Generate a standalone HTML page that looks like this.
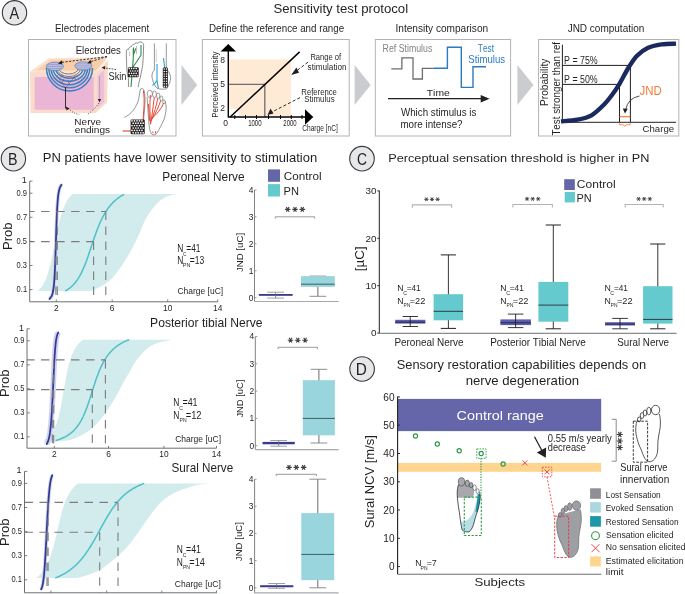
<!DOCTYPE html>
<html><head><meta charset="utf-8"><style>
html,body{margin:0;padding:0;background:#fff;width:685px;height:594px;overflow:hidden}
svg{display:block;will-change:transform}
text{font-family:"Liberation Sans", sans-serif;font-kerning:none}
</style></head><body>
<svg width="685" height="594" viewBox="0 0 685 594">
<rect width="685" height="594" fill="#fff"/>
<circle cx="14.5" cy="12.8" r="12.2" fill="#e6e7e8" stroke="#3a3a3c" stroke-width="1.1"/>
<text x="9.57" y="18.90" font-size="16.6" fill="#231f20" textLength="9.66" lengthAdjust="spacingAndGlyphs" >A</text>
<text x="273.40" y="12.90" font-size="12.9" fill="#231f20" textLength="134.68" lengthAdjust="spacingAndGlyphs" >Sensitivity test protocol</text>
<text x="55.10" y="32.10" font-size="10.2" fill="#231f20" textLength="94.07" lengthAdjust="spacingAndGlyphs" >Electrodes placement</text>
<text x="209.00" y="32.10" font-size="10.2" fill="#231f20" textLength="135.13" lengthAdjust="spacingAndGlyphs" >Define the reference and range</text>
<text x="395.47" y="32.10" font-size="10.2" fill="#231f20" textLength="92.69" lengthAdjust="spacingAndGlyphs" >Intensity comparison</text>
<text x="567.64" y="32.10" font-size="10.2" fill="#231f20" textLength="76.71" lengthAdjust="spacingAndGlyphs" >JND computation</text>
<rect x="28.5" y="39.5" width="147.5" height="96.5" fill="none" stroke="#b1b3b6" stroke-width="1"/>
<rect x="202.4" y="39.5" width="146.8" height="96.5" fill="none" stroke="#b1b3b6" stroke-width="1"/>
<rect x="375.3" y="39.5" width="135.3" height="96.5" fill="none" stroke="#b1b3b6" stroke-width="1"/>
<rect x="538.6" y="39.5" width="140.2" height="96.5" fill="none" stroke="#b1b3b6" stroke-width="1"/>
<polygon points="181.5,65 197.2,85 181.5,105" fill="#cbcccf"/>
<polygon points="354.6,65 370.7,85 354.6,105" fill="#cbcccf"/>
<polygon points="517.4,65 533.5,85 517.4,105" fill="#cbcccf"/>
<polygon points="30,71.7 49,58.3 108.2,57.2 96.3,73" fill="#fbe0cf"/>
<polygon points="37,70 51,60 105,59.5 95,71" fill="#f9cda6"/>
<polygon points="30,71.7 96.3,73 96.3,113 30.5,113" fill="#fbdccb"/>
<rect x="34.6" y="77" width="59.1" height="32.8" fill="#ebb6d6"/>
<polygon points="96.3,73 108.2,60 107,102.6 95.5,113" fill="#f9dacb"/>
<polygon points="97.6,76.3 104.2,69.7 104.2,101.9 97.6,107.8" fill="#edbfd9"/>
<path d="M58.6,68 A10,6 0 0 0 78.6,68" fill="none" stroke="#6d6e71" stroke-width="0.9"/>
<path d="M57.0,68 A11.8,8.6 0 0 0 80.6,68" fill="none" stroke="#6d6e71" stroke-width="0.9"/>
<path d="M55.5,68 A13.8,10.2 0 0 0 83.1,68" fill="none" stroke="#3c7fc4" stroke-width="1.5"/>
<path d="M53.1,68 A16.2,13.3 0 0 0 85.5,68" fill="none" stroke="#3c7fc4" stroke-width="1.5"/>
<path d="M51.0,68 A18.3,16.8 0 0 0 87.6,68" fill="none" stroke="#3c7fc4" stroke-width="1.5"/>
<path d="M48.8,68 A20.5,19.8 0 0 0 89.8,68" fill="none" stroke="#3c7fc4" stroke-width="1.5"/>
<path d="M46.5,68 A23,22.9 0 0 0 92.5,68" fill="none" stroke="#3c7fc4" stroke-width="1.5"/>
<path d="M65.5,88 L62,83 L59,79 L57,75 M62,83 L64,79 M65.5,88 L69,84 L72,80 L75,76 M69,84 L68,80 M60,77 L63,76 M73,78 L76,79" stroke="#58595b" stroke-width="0.5" fill="none"/>
<clipPath id="el0"><ellipse cx="54.9" cy="66.4" rx="8.6" ry="4.2"/></clipPath>
<ellipse cx="54.9" cy="66.4" rx="8.6" ry="4.2" fill="#c4d6ef"/>
<g clip-path="url(#el0)"><line x1="45.9" y1="62.4" x2="63.9" y2="62.4" stroke="#4a83c6" stroke-width="0.55"/><line x1="45.9" y1="63.4" x2="63.9" y2="63.4" stroke="#e79bbd" stroke-width="0.55"/><line x1="45.9" y1="64.4" x2="63.9" y2="64.4" stroke="#4a83c6" stroke-width="0.55"/><line x1="45.9" y1="65.4" x2="63.9" y2="65.4" stroke="#e79bbd" stroke-width="0.55"/><line x1="45.9" y1="66.4" x2="63.9" y2="66.4" stroke="#4a83c6" stroke-width="0.55"/><line x1="45.9" y1="67.4" x2="63.9" y2="67.4" stroke="#e79bbd" stroke-width="0.55"/><line x1="45.9" y1="68.4" x2="63.9" y2="68.4" stroke="#4a83c6" stroke-width="0.55"/><line x1="45.9" y1="69.4" x2="63.9" y2="69.4" stroke="#e79bbd" stroke-width="0.55"/><line x1="45.9" y1="70.4" x2="63.9" y2="70.4" stroke="#4a83c6" stroke-width="0.55"/></g>
<ellipse cx="54.9" cy="66.4" rx="8.6" ry="4.2" fill="none" stroke="#4a83c6" stroke-width="0.6"/>
<clipPath id="el1"><ellipse cx="83.4" cy="65.9" rx="8.6" ry="4.2"/></clipPath>
<ellipse cx="83.4" cy="65.9" rx="8.6" ry="4.2" fill="#c4d6ef"/>
<g clip-path="url(#el1)"><line x1="74.4" y1="61.9" x2="92.4" y2="61.9" stroke="#4a83c6" stroke-width="0.55"/><line x1="74.4" y1="62.9" x2="92.4" y2="62.9" stroke="#e79bbd" stroke-width="0.55"/><line x1="74.4" y1="63.9" x2="92.4" y2="63.9" stroke="#4a83c6" stroke-width="0.55"/><line x1="74.4" y1="64.9" x2="92.4" y2="64.9" stroke="#e79bbd" stroke-width="0.55"/><line x1="74.4" y1="65.9" x2="92.4" y2="65.9" stroke="#4a83c6" stroke-width="0.55"/><line x1="74.4" y1="66.9" x2="92.4" y2="66.9" stroke="#e79bbd" stroke-width="0.55"/><line x1="74.4" y1="67.9" x2="92.4" y2="67.9" stroke="#4a83c6" stroke-width="0.55"/><line x1="74.4" y1="68.9" x2="92.4" y2="68.9" stroke="#e79bbd" stroke-width="0.55"/><line x1="74.4" y1="69.9" x2="92.4" y2="69.9" stroke="#4a83c6" stroke-width="0.55"/></g>
<ellipse cx="83.4" cy="65.9" rx="8.6" ry="4.2" fill="none" stroke="#4a83c6" stroke-width="0.6"/>
<path d="M65.5,87 L65.5,108.5" stroke="#231f20" stroke-width="0.9" fill="none"/>
<polygon points="65.8,106.5 69.5,108.5 66.5,110.5" fill="#231f20"/>
<path d="M99.6,76 L99.6,101" stroke="#9a8aa0" stroke-width="0.6" fill="none"/>
<polygon points="99.6,102.3 97.8,99 101.2,99" fill="#231f20"/>
<path d="M68.7,108.3 Q72,113 79.2,114.6" stroke="#231f20" stroke-width="0.8" fill="none" stroke-dasharray="1,1.4"/>
<path d="M99,103 Q94,110 87.1,114.6" stroke="#231f20" stroke-width="0.8" fill="none" stroke-dasharray="1,1.4"/>
<path d="M107,56.6 L60.5,62.5" stroke="#231f20" stroke-width="0.9" fill="none" stroke-dasharray="2.2,1.4"/>
<polygon points="57.8,63.5 62,60.2 62.3,64.3" fill="#231f20"/>
<path d="M107,56.6 L89.5,62" stroke="#231f20" stroke-width="0.9" fill="none" stroke-dasharray="2.2,1.4"/>
<polygon points="87.3,63.3 90.5,59.7 91.6,63.5" fill="#231f20"/>
<path d="M116,69.5 L104,67.9" stroke="#231f20" stroke-width="0.8" fill="none" stroke-dasharray="1.6,1.2"/>
<polygon points="101.6,67.6 105.3,66 105,69.6" fill="#231f20"/>
<text x="75.72" y="54.00" font-size="10.2" fill="#231f20" textLength="45.13" lengthAdjust="spacingAndGlyphs" >Electrodes</text>
<text x="108.48" y="80.00" font-size="10.2" fill="#231f20" textLength="18.02" lengthAdjust="spacingAndGlyphs" >Skin</text>
<text x="74.38" y="125.40" font-size="9.6" fill="#231f20" textLength="26.66" lengthAdjust="spacingAndGlyphs" >Nerve</text>
<text x="74.77" y="132.80" font-size="9.6" fill="#231f20" textLength="35.39" lengthAdjust="spacingAndGlyphs" >endings</text>
<path d="M128.4,87 C128.6,83 128.4,80 128.4,78.7 C127.4,74 126.6,70 126.7,65.3 C126.5,60 126.2,55 126.3,51 C126.5,49.5 127.5,49 128.5,49.5 M128.5,49.5 C129,47.5 130,46.5 131.2,46.8 C132,44.8 133.2,44 134.4,44.3 C135.2,42.8 136.5,42.6 137.5,43.2 C138.5,41.8 141,41.6 142.3,42.5 C143.6,43.5 143.8,45.5 143.6,47 C143.4,53 143.3,59 142.7,65.3 C141.8,70 141,74 140.2,77.9 C139.3,81 138.5,84 138.1,87.2" fill="none" stroke="#414042" stroke-width="0.6"/>
<path d="M129.5,52 L129.8,56 M132.8,48.5 L132.9,55 M136.5,46 L136.5,54" stroke="#808285" stroke-width="0.5" fill="none"/>
<path d="M131,87 L132.6,67.8 L133.5,54.3 L133.5,47.6 M133.5,54.3 C134.5,52 135.5,50 135.6,48.4 M132.6,67.8 L141,55.2 L141,45" stroke="#2e8b4a" stroke-width="1.1" fill="none"/>
<rect x="127.9" y="67.2" width="10.8" height="10.0" rx="1.2" fill="#231f20"/>
<circle cx="129.3" cy="68.6" r="0.8" fill="#fff"/>
<circle cx="131.6" cy="68.6" r="0.8" fill="#fff"/>
<circle cx="133.9" cy="68.6" r="0.8" fill="#fff"/>
<circle cx="136.2" cy="68.6" r="0.8" fill="#fff"/>
<circle cx="130.5" cy="71.0" r="0.8" fill="#fff"/>
<circle cx="132.8" cy="71.0" r="0.8" fill="#fff"/>
<circle cx="135.1" cy="71.0" r="0.8" fill="#fff"/>
<circle cx="137.4" cy="71.0" r="0.8" fill="#fff"/>
<circle cx="129.3" cy="73.4" r="0.8" fill="#fff"/>
<circle cx="131.6" cy="73.4" r="0.8" fill="#fff"/>
<circle cx="133.9" cy="73.4" r="0.8" fill="#fff"/>
<circle cx="136.2" cy="73.4" r="0.8" fill="#fff"/>
<circle cx="130.5" cy="75.8" r="0.8" fill="#fff"/>
<circle cx="132.8" cy="75.8" r="0.8" fill="#fff"/>
<circle cx="135.1" cy="75.8" r="0.8" fill="#fff"/>
<circle cx="137.4" cy="75.8" r="0.8" fill="#fff"/>
<path d="M154.4,43.4 L154.4,70 C152,72 151.3,76 152.5,79.5 C153.5,83 155,86.5 157,88.2 C160,89.5 164,89.3 166.5,88.8 C168.5,86 170.8,81.5 170.6,77.5 C170.4,74 168.6,71.5 166.3,69 L166.3,43.4" fill="none" stroke="#414042" stroke-width="0.55"/>
<path d="M156.2,49 L156.4,62" stroke="#a7a9ac" stroke-width="0.5" fill="none"/>
<path d="M157,64 L157,80.4 C155.5,83 154,84.5 152.4,85.5 M157,80.4 C157.5,84 158,86 158.3,88.4 M163.4,58.1 C164,62 164.6,65 164.6,67.8 L165.5,88" stroke="#27a3dd" stroke-width="1.1" fill="none"/>
<rect x="162.8" y="67.6" width="5.1" height="20.0" rx="1.2" fill="#231f20"/>
<circle cx="164.2" cy="69.0" r="0.75" fill="#fff"/>
<circle cx="166.5" cy="69.0" r="0.75" fill="#fff"/>
<circle cx="164.2" cy="71.5" r="0.75" fill="#fff"/>
<circle cx="166.5" cy="71.5" r="0.75" fill="#fff"/>
<circle cx="164.2" cy="73.9" r="0.75" fill="#fff"/>
<circle cx="166.5" cy="73.9" r="0.75" fill="#fff"/>
<circle cx="164.2" cy="76.3" r="0.75" fill="#fff"/>
<circle cx="166.5" cy="76.3" r="0.75" fill="#fff"/>
<circle cx="164.2" cy="78.8" r="0.75" fill="#fff"/>
<circle cx="166.5" cy="78.8" r="0.75" fill="#fff"/>
<circle cx="164.2" cy="81.2" r="0.75" fill="#fff"/>
<circle cx="166.5" cy="81.2" r="0.75" fill="#fff"/>
<circle cx="164.2" cy="83.7" r="0.75" fill="#fff"/>
<circle cx="166.5" cy="83.7" r="0.75" fill="#fff"/>
<circle cx="164.2" cy="86.2" r="0.75" fill="#fff"/>
<circle cx="166.5" cy="86.2" r="0.75" fill="#fff"/>
<path d="M124.4,117.4 C131,114.5 136,108 138.5,100 C139.5,95 139.8,91 140.6,89 C141.6,88 143.2,88.5 144,90.3 C145.2,95 145,100 145,102.5 C144.6,110 143.8,116 143.6,120 C143.8,123 144.2,125 144.5,126.2" fill="none" stroke="#414042" stroke-width="0.55"/>
<path d="M143.4,90.5 C144.3,96 144.4,103 143.8,110 C143.2,116 143,120 143.2,124" stroke="#e8412d" stroke-width="1" fill="none"/>
<path d="M147.1,97 C147.5,104 148,111 148.5,118 C149,125 149.5,131 151.5,134 C153.5,135.6 155.8,135 156.8,133.2 C159.5,129 162,124 163.8,120 C165.8,114 166.5,109 166,105 C165.6,102.5 165,101.2 164.5,100.5" fill="none" stroke="#414042" stroke-width="0.55"/>
<ellipse cx="149.8" cy="93.8" rx="2.6" ry="3.6" fill="#fff" stroke="#414042" stroke-width="0.5"/>
<ellipse cx="154.5" cy="94.3" rx="1.9" ry="3.3" fill="#fff" stroke="#414042" stroke-width="0.5"/>
<ellipse cx="158.2" cy="95.9" rx="1.7" ry="2.9" fill="#fff" stroke="#414042" stroke-width="0.5"/>
<ellipse cx="161.4" cy="98.5" rx="1.5" ry="2.4" fill="#fff" stroke="#414042" stroke-width="0.5"/>
<ellipse cx="164" cy="101.8" rx="1.3" ry="1.9" fill="#fff" stroke="#414042" stroke-width="0.5"/>
<path d="M150.6,124.4 C150,115 149.5,105 150.4,95 M150.8,123 C152,114 153.5,106 154.3,97.3 M151.2,121 C154,113 156.5,106 157.7,98.5 M151.6,119.5 C156,113 159,106 160.7,100.5 M152,118 C157,114 161.5,109 163.6,103 M148.4,104 C148.8,110 149.3,116 149.8,121 M152.5,131.5 L153.3,133.3 M155.7,131.2 L155.4,133.5" stroke="#e8412d" stroke-width="0.95" fill="none"/>
<path d="M122.6,131 L131.4,131" stroke="#e8412d" stroke-width="1.1"/>
<rect x="130.6" y="119.4" width="14.1" height="14.8" rx="1.2" fill="#231f20"/>
<circle cx="132.0" cy="120.8" r="0.85" fill="#fff"/>
<circle cx="134.5" cy="120.8" r="0.85" fill="#fff"/>
<circle cx="137.0" cy="120.8" r="0.85" fill="#fff"/>
<circle cx="139.5" cy="120.8" r="0.85" fill="#fff"/>
<circle cx="142.0" cy="120.8" r="0.85" fill="#fff"/>
<circle cx="133.2" cy="123.2" r="0.85" fill="#fff"/>
<circle cx="135.8" cy="123.2" r="0.85" fill="#fff"/>
<circle cx="138.2" cy="123.2" r="0.85" fill="#fff"/>
<circle cx="140.8" cy="123.2" r="0.85" fill="#fff"/>
<circle cx="143.2" cy="123.2" r="0.85" fill="#fff"/>
<circle cx="132.0" cy="125.6" r="0.85" fill="#fff"/>
<circle cx="134.5" cy="125.6" r="0.85" fill="#fff"/>
<circle cx="137.0" cy="125.6" r="0.85" fill="#fff"/>
<circle cx="139.5" cy="125.6" r="0.85" fill="#fff"/>
<circle cx="142.0" cy="125.6" r="0.85" fill="#fff"/>
<circle cx="133.2" cy="128.0" r="0.85" fill="#fff"/>
<circle cx="135.8" cy="128.0" r="0.85" fill="#fff"/>
<circle cx="138.2" cy="128.0" r="0.85" fill="#fff"/>
<circle cx="140.8" cy="128.0" r="0.85" fill="#fff"/>
<circle cx="143.2" cy="128.0" r="0.85" fill="#fff"/>
<circle cx="132.0" cy="130.4" r="0.85" fill="#fff"/>
<circle cx="134.5" cy="130.4" r="0.85" fill="#fff"/>
<circle cx="137.0" cy="130.4" r="0.85" fill="#fff"/>
<circle cx="139.5" cy="130.4" r="0.85" fill="#fff"/>
<circle cx="142.0" cy="130.4" r="0.85" fill="#fff"/>
<circle cx="133.2" cy="132.8" r="0.85" fill="#fff"/>
<circle cx="135.8" cy="132.8" r="0.85" fill="#fff"/>
<circle cx="138.2" cy="132.8" r="0.85" fill="#fff"/>
<circle cx="140.8" cy="132.8" r="0.85" fill="#fff"/>
<circle cx="143.2" cy="132.8" r="0.85" fill="#fff"/>
<path d="M229,59.6 L291,59.6 L291,116 L238.5,116 L238.5,108.7 L229,108.7 Z" fill="#feead5"/>
<path d="M229,84.3 L264.8,84.3 L264.8,117" fill="none" stroke="#6d6e71" stroke-width="1.3"/>
<line x1="230.2" y1="117" x2="299.6" y2="51.9" stroke="#000" stroke-width="1.5"/>
<line x1="228.3" y1="117.5" x2="228.3" y2="50" stroke="#000" stroke-width="1.4"/>
<polygon points="228.3,43.9 236,51.4 220.6,51.4" fill="#000"/>
<line x1="228.3" y1="117" x2="306" y2="117" stroke="#000" stroke-width="1.4"/>
<polygon points="313.3,117 305,109.3 305,124.7" fill="#000"/>
<line x1="234.8" y1="115" x2="234.8" y2="119" stroke="#000" stroke-width="1"/>
<line x1="245.5" y1="115" x2="245.5" y2="119" stroke="#000" stroke-width="1"/>
<line x1="256.5" y1="115" x2="256.5" y2="119" stroke="#000" stroke-width="1"/>
<line x1="268.5" y1="115" x2="268.5" y2="119" stroke="#000" stroke-width="1"/>
<line x1="280.5" y1="115" x2="280.5" y2="119" stroke="#000" stroke-width="1"/>
<line x1="291.3" y1="115" x2="291.3" y2="119" stroke="#000" stroke-width="1"/>
<line x1="302" y1="115" x2="302" y2="119" stroke="#000" stroke-width="1"/>
<text x="225.00" y="63.30" font-size="8.5" fill="#231f20" text-anchor="end" >8</text>
<text x="225.00" y="87.00" font-size="8.5" fill="#231f20" text-anchor="end" >5</text>
<text x="225.00" y="110.50" font-size="8.5" fill="#231f20" text-anchor="end" >2</text>
<text x="225.50" y="125.60" font-size="8.5" fill="#231f20" text-anchor="middle" >0</text>
<text x="248.14" y="125.60" font-size="8.5" fill="#231f20" textLength="13.50" lengthAdjust="spacingAndGlyphs" >1000</text>
<text x="283.30" y="125.60" font-size="8.5" fill="#231f20" textLength="13.34" lengthAdjust="spacingAndGlyphs" >2000</text>
<text x="217.60" y="117.64" font-size="9.9" fill="#231f20" textLength="65.96" lengthAdjust="spacingAndGlyphs" transform="rotate(-90 217.60 117.64)" >Perceived intensity</text>
<text x="310.38" y="59.60" font-size="9.2" fill="#231f20" textLength="30.61" lengthAdjust="spacingAndGlyphs" >Range of</text>
<text x="307.57" y="70.40" font-size="9.2" fill="#231f20" textLength="38.96" lengthAdjust="spacingAndGlyphs" >stimulation</text>
<text x="301.37" y="94.80" font-size="8.8" fill="#231f20" textLength="35.47" lengthAdjust="spacingAndGlyphs" >Reference</text>
<text x="304.24" y="101.80" font-size="8.8" fill="#231f20" textLength="30.35" lengthAdjust="spacingAndGlyphs" >Stimulus</text>
<text x="302.26" y="131.00" font-size="8.2" fill="#231f20" textLength="35.61" lengthAdjust="spacingAndGlyphs" >Charge [nC]</text>
<line x1="308" y1="62.2" x2="295.5" y2="71.6" stroke="#231f20" stroke-width="0.95" stroke-dasharray="3,2.2"/>
<polygon points="291.2,75 296.4,67.6 299,72.8" fill="#231f20"/>
<line x1="300" y1="97.6" x2="271" y2="112.5" stroke="#231f20" stroke-width="0.95" stroke-dasharray="3,2.2"/>
<polygon points="267.5,115 270.5,108.6 273.5,113.6" fill="#231f20"/>
<text x="382.58" y="51.90" font-size="10.2" fill="#808285" textLength="49.74" lengthAdjust="spacingAndGlyphs" >Ref Stimulus</text>
<polyline points="391.3,68.9 401.9,68.9 401.9,57.8 413,57.8 413,79 422.4,79 422.4,68.3 434,68.3" fill="none" stroke="#6d6e71" stroke-width="1.3"/>
<polyline points="434,68.3 447.4,68.3 447.4,47.2 461.3,47.2 461.3,87.4 473,87.4 473,66.7 486,66.7" fill="none" stroke="#2b7bc0" stroke-width="1.4"/>
<text x="477.81" y="51.90" font-size="10.2" fill="#2b7bc0" textLength="16.25" lengthAdjust="spacingAndGlyphs" >Test</text>
<text x="468.26" y="63.00" font-size="10.2" fill="#2b7bc0" textLength="36.88" lengthAdjust="spacingAndGlyphs" >Stimulus</text>
<text x="426.77" y="95.70" font-size="9.9" fill="#231f20" textLength="22.99" lengthAdjust="spacingAndGlyphs" >Time</text>
<line x1="388" y1="98.7" x2="482" y2="98.7" stroke="#231f20" stroke-width="1.2"/>
<polygon points="489.6,98.7 480.7,95 480.7,102.4" fill="#231f20"/>
<text x="400.96" y="115.50" font-size="11.3" fill="#231f20" textLength="75.40" lengthAdjust="spacingAndGlyphs" >Which stimulus is</text>
<text x="400.45" y="127.60" font-size="11.3" fill="#231f20" textLength="62.11" lengthAdjust="spacingAndGlyphs" >more intense?</text>
<line x1="562.4" y1="44.7" x2="562.4" y2="122.3" stroke="#231f20" stroke-width="1"/>
<line x1="562.4" y1="122.3" x2="676" y2="122.3" stroke="#231f20" stroke-width="1"/>
<path d="M562.5,65.4 L630.4,65.4 L630.4,122.3 M562.5,84.4 L619.5,84.4 L619.5,122.3" fill="none" stroke="#231f20" stroke-width="1"/>
<path d="M561.00,121.40 C563.75,121.12 572.42,120.72 577.50,119.70 C582.58,118.68 587.12,117.78 591.50,115.30 C595.88,112.82 600.30,108.30 603.80,104.80 C607.30,101.30 609.88,97.80 612.50,94.30 C615.12,90.80 616.87,88.18 619.50,83.80 C622.13,79.42 625.38,72.67 628.30,68.00 C631.22,63.33 633.78,59.15 637.00,55.80 C640.22,52.45 643.50,49.80 647.60,47.90 C651.70,46.00 656.87,45.12 661.60,44.40 C666.33,43.68 673.60,43.73 676.00,43.60" fill="none" stroke="#1b2a5e" stroke-width="4.4"/>
<text x="564.08" y="63.50" font-size="11.6" fill="#231f20" textLength="33.64" lengthAdjust="spacingAndGlyphs" >P = 75%</text>
<text x="564.08" y="83.30" font-size="11.6" fill="#231f20" textLength="33.64" lengthAdjust="spacingAndGlyphs" >P = 50%</text>
<text x="639.52" y="94.50" font-size="13" fill="#f47b3b" textLength="22.23" lengthAdjust="spacingAndGlyphs" >JND</text>
<path d="M639.5,96 Q628,98 625.5,110" fill="none" stroke="#231f20" stroke-width="0.8"/>
<polygon points="625,113.5 622.8,108.5 627.8,108.8" fill="#231f20"/>
<line x1="619.4" y1="116.7" x2="630.2" y2="116.7" stroke="#f47b3b" stroke-width="1.2"/>
<path d="M619.4,122.5 L619.4,124.8 L623.5,124.8 L624.8,126.5 L626.1,124.8 L630.2,124.8 L630.2,122.5" fill="none" stroke="#f47b3b" stroke-width="0.8"/>
<text x="642.51" y="131.80" font-size="9.9" fill="#231f20" textLength="31.62" lengthAdjust="spacingAndGlyphs" >Charge</text>
<text x="548.20" y="105.93" font-size="10.6" fill="#231f20" textLength="47.35" lengthAdjust="spacingAndGlyphs" transform="rotate(-90 548.20 105.93)" >Probability</text>
<text x="559.80" y="135.62" font-size="11" fill="#231f20" textLength="93.71" lengthAdjust="spacingAndGlyphs" transform="rotate(-90 559.80 135.62)" >Test stronger than ref</text>
<circle cx="13.4" cy="158.8" r="12.2" fill="#e6e7e8" stroke="#3a3a3c" stroke-width="1.1"/>
<text x="7.93" y="164.70" font-size="16.6" fill="#231f20" textLength="9.52" lengthAdjust="spacingAndGlyphs" >B</text>
<text x="42.83" y="161.80" font-size="13.1" fill="#231f20" textLength="274.31" lengthAdjust="spacingAndGlyphs" >PN patients have lower sensitivity to stimulation</text>
<text x="162.23" y="180.70" font-size="12.6" fill="#231f20" textLength="82.40" lengthAdjust="spacingAndGlyphs" >Peroneal Nerve</text>
<rect x="268" y="169.4" width="12" height="12.4" fill="#6565a9"/>
<rect x="268" y="184.1" width="12" height="12.4" fill="#65cace"/>
<text x="283.80" y="180.00" font-size="11.2" fill="#231f20" textLength="37.78" lengthAdjust="spacingAndGlyphs" >Control</text>
<text x="283.49" y="194.60" font-size="11.2" fill="#231f20" textLength="15.42" lengthAdjust="spacingAndGlyphs" >PN</text>
<path d="M37.63,291.10 L39.68,289.12 L41.33,287.14 L42.70,285.16 L43.86,283.18 L44.87,281.20 L45.76,279.22 L46.55,277.24 L47.28,275.26 L47.94,273.28 L48.55,271.30 L49.11,269.32 L49.65,267.34 L50.15,265.37 L50.63,263.39 L51.09,261.41 L51.53,259.43 L51.96,257.45 L52.37,255.47 L52.77,253.49 L53.17,251.51 L53.56,249.53 L53.95,247.55 L54.33,245.57 L54.71,243.59 L55.10,241.61 L55.48,239.63 L55.87,237.65 L56.26,235.67 L56.66,233.69 L57.07,231.71 L57.49,229.73 L57.92,227.75 L58.36,225.77 L58.83,223.79 L59.31,221.81 L59.81,219.83 L60.34,217.86 L60.91,215.88 L61.51,213.90 L62.15,211.92 L62.85,209.94 L63.60,207.96 L64.43,205.98 L65.35,204.00 L66.38,202.02 L67.54,200.04 L68.88,198.06 L70.46,196.08 L72.35,194.10 L177.80,194.10 L176.81,194.15 L175.83,194.25 L174.84,194.40 L173.85,194.58 L172.87,194.80 L171.88,195.05 L170.89,195.32 L169.91,195.61 L168.92,195.91 L167.93,196.22 L166.95,196.57 L165.96,197.00 L164.98,197.49 L163.99,198.04 L163.00,198.64 L162.02,199.28 L161.03,199.97 L160.04,200.69 L159.06,201.51 L158.07,202.42 L157.08,203.40 L156.10,204.46 L155.11,205.58 L154.12,206.76 L153.14,207.98 L152.15,209.25 L151.16,210.55 L150.18,211.88 L149.19,213.30 L148.20,214.83 L147.22,216.45 L146.23,218.17 L145.24,219.98 L144.26,221.88 L143.27,224.01 L142.29,226.34 L141.30,228.78 L140.31,231.24 L139.33,233.63 L138.34,235.85 L137.35,237.97 L136.37,240.05 L135.38,242.10 L134.39,244.11 L133.41,246.07 L132.42,247.97 L131.43,249.82 L130.45,251.62 L129.46,253.36 L128.47,255.07 L127.49,256.75 L126.50,258.39 L125.51,260.00 L124.53,261.57 L123.54,263.09 L122.56,264.58 L121.57,266.02 L120.58,267.41 L119.60,268.77 L118.61,270.11 L117.62,271.45 L116.64,272.75 L115.65,274.02 L114.66,275.25 L113.68,276.42 L112.69,277.53 L111.70,278.57 L110.72,279.53 L109.73,280.41 L108.74,281.24 L107.76,282.04 L106.77,282.80 L105.78,283.52 L104.80,284.21 L103.81,284.86 L102.82,285.48 L101.84,286.06 L100.85,286.61 L99.87,287.12 L98.88,287.61 L97.89,288.09 L96.91,288.55 L95.92,289.00 L94.93,289.41 L93.95,289.81 L92.96,290.18 L91.97,290.52 L90.99,290.82 L90.00,291.10 Z" fill="#d2ebec"/>
<path d="M65.11,291.10 L67.80,289.46 L70.02,287.82 L71.92,286.18 L73.56,284.54 L75.01,282.90 L76.30,281.26 L77.47,279.62 L78.53,277.97 L79.51,276.33 L80.43,274.69 L81.28,273.05 L82.08,271.41 L82.84,269.77 L83.56,268.13 L84.25,266.49 L84.91,264.85 L85.55,263.21 L86.17,261.57 L86.78,259.93 L87.36,258.29 L87.94,256.65 L88.51,255.01 L89.06,253.36 L89.62,251.72 L90.16,250.08 L90.71,248.44 L91.25,246.80 L91.79,245.16 L92.34,243.52 L92.89,241.88 L93.44,240.24 L94.00,238.60 L94.56,236.96 L95.14,235.32 L95.72,233.68 L96.32,232.04 L96.93,230.39 L97.56,228.75 L98.21,227.11 L98.87,225.47 L99.57,223.83 L100.28,222.19 L101.03,220.55 L101.82,218.91 L102.64,217.27 L103.50,215.63 L104.42,213.99 L105.39,212.35 L106.42,210.71 L107.53,209.07 L108.72,207.43 L110.02,205.78 L111.43,204.14 L112.98,202.50 L114.70,200.86 L116.62,199.22 L118.80,197.58 L121.30,195.94 L124.20,194.30" fill="none" stroke="#4cc1c7" stroke-width="1.5"/>
<path d="M49.52,299.10 L51.67,296.16 L52.64,293.23 L53.23,290.29 L53.65,287.36 L53.97,284.42 L54.22,281.48 L54.43,278.55 L54.62,275.61 L54.78,272.68 L54.92,269.74 L55.05,266.81 L55.17,263.87 L55.28,260.93 L55.39,258.00 L55.49,255.06 L55.59,252.13 L55.68,249.19 L55.78,246.25 L55.87,243.32 L55.96,240.38 L56.05,237.45 L56.14,234.51 L56.24,231.57 L56.33,228.64 L56.43,225.70 L56.54,222.77 L56.65,219.83 L56.77,216.89 L56.90,213.96 L57.04,211.02 L57.19,208.09 L57.37,205.15 L57.58,202.22 L57.82,199.28 L58.12,196.34 L58.51,193.41 L59.04,190.47 L59.87,187.54 L61.49,184.60" fill="none" stroke="#d3d2ee" stroke-width="3.6" stroke-linecap="butt"/>
<path d="M49.52,299.10 L51.67,296.16 L52.64,293.23 L53.23,290.29 L53.65,287.36 L53.97,284.42 L54.22,281.48 L54.43,278.55 L54.62,275.61 L54.78,272.68 L54.92,269.74 L55.05,266.81 L55.17,263.87 L55.28,260.93 L55.39,258.00 L55.49,255.06 L55.59,252.13 L55.68,249.19 L55.78,246.25 L55.87,243.32 L55.96,240.38 L56.05,237.45 L56.14,234.51 L56.24,231.57 L56.33,228.64 L56.43,225.70 L56.54,222.77 L56.65,219.83 L56.77,216.89 L56.90,213.96 L57.04,211.02 L57.19,208.09 L57.37,205.15 L57.58,202.22 L57.82,199.28 L58.12,196.34 L58.51,193.41 L59.04,190.47 L59.87,187.54 L61.49,184.60" fill="none" stroke="#2f3b93" stroke-width="1.75" stroke-linecap="round"/>
<line x1="29.7" y1="211.5" x2="105.8" y2="211.5" stroke="#7b7c7f" stroke-width="1.1" stroke-dasharray="8.5,6.5" stroke-dashoffset="3.6"/>
<line x1="29.7" y1="241.6" x2="93.6" y2="241.6" stroke="#7b7c7f" stroke-width="1.1" stroke-dasharray="8.5,6.5" stroke-dashoffset="3.6"/>
<line x1="55.9" y1="241.6" x2="55.9" y2="301.8" stroke="#7b7c7f" stroke-width="1.1" stroke-dasharray="8.5,6.5"/>
<line x1="57.3" y1="211.5" x2="57.3" y2="301.8" stroke="#7b7c7f" stroke-width="1.1" stroke-dasharray="8.5,6.5"/>
<line x1="93.6" y1="241.6" x2="93.6" y2="301.8" stroke="#7b7c7f" stroke-width="1.1" stroke-dasharray="8.5,6.5"/>
<line x1="105.8" y1="211.5" x2="105.8" y2="301.8" stroke="#7b7c7f" stroke-width="1.1" stroke-dasharray="8.5,6.5"/>
<line x1="29.7" y1="181.1" x2="29.7" y2="301.8" stroke="#6d6e71" stroke-width="1"/>
<line x1="29.7" y1="301.8" x2="217.7" y2="301.8" stroke="#6d6e71" stroke-width="1"/>
<line x1="29.7" y1="181.1" x2="32.5" y2="181.1" stroke="#6d6e71" stroke-width="0.9"/>
<text x="26.70" y="183.10" font-size="9.0" fill="#231f20" text-anchor="end" >1</text>
<line x1="29.7" y1="193.2" x2="32.5" y2="193.2" stroke="#6d6e71" stroke-width="0.9"/>
<text x="16.61" y="195.76" font-size="9.3" fill="#231f20" textLength="10.45" lengthAdjust="spacingAndGlyphs" >0.9</text>
<line x1="29.7" y1="217.3" x2="32.5" y2="217.3" stroke="#6d6e71" stroke-width="0.9"/>
<text x="16.61" y="219.88" font-size="9.3" fill="#231f20" textLength="10.47" lengthAdjust="spacingAndGlyphs" >0.7</text>
<line x1="29.7" y1="241.4" x2="32.5" y2="241.4" stroke="#6d6e71" stroke-width="0.9"/>
<text x="16.61" y="244.00" font-size="9.3" fill="#231f20" textLength="10.41" lengthAdjust="spacingAndGlyphs" >0.5</text>
<line x1="29.7" y1="265.5" x2="32.5" y2="265.5" stroke="#6d6e71" stroke-width="0.9"/>
<text x="16.61" y="268.12" font-size="9.3" fill="#231f20" textLength="10.42" lengthAdjust="spacingAndGlyphs" >0.3</text>
<line x1="29.7" y1="289.6" x2="32.5" y2="289.6" stroke="#6d6e71" stroke-width="0.9"/>
<text x="16.61" y="292.24" font-size="9.3" fill="#231f20" textLength="10.46" lengthAdjust="spacingAndGlyphs" >0.1</text>
<line x1="56.3" y1="301.8" x2="56.3" y2="299.5" stroke="#6d6e71" stroke-width="0.9"/>
<text x="56.30" y="310.60" font-size="8.4" fill="#231f20" text-anchor="middle" >2</text>
<line x1="112.2" y1="301.8" x2="112.2" y2="299.5" stroke="#6d6e71" stroke-width="0.9"/>
<text x="112.20" y="310.60" font-size="8.4" fill="#231f20" text-anchor="middle" >6</text>
<line x1="167.7" y1="301.8" x2="167.7" y2="299.5" stroke="#6d6e71" stroke-width="0.9"/>
<text x="167.70" y="310.60" font-size="8.4" fill="#231f20" text-anchor="middle" >10</text>
<line x1="217.7" y1="301.8" x2="217.7" y2="299.5" stroke="#6d6e71" stroke-width="0.9"/>
<text x="217.70" y="310.60" font-size="8.4" fill="#231f20" text-anchor="middle" >14</text>
<text x="177.21" y="252.30" font-size="10.0" fill="#231f20" textLength="6.08" lengthAdjust="spacingAndGlyphs" >N</text>
<text x="182.97" y="255.90" font-size="6.2" fill="#231f20" textLength="3.31" lengthAdjust="spacingAndGlyphs" >C</text>
<text x="186.29" y="252.30" font-size="10.0" fill="#231f20" textLength="14.22" lengthAdjust="spacingAndGlyphs" >=41</text>
<text x="177.21" y="264.00" font-size="10.0" fill="#231f20" textLength="6.08" lengthAdjust="spacingAndGlyphs" >N</text>
<text x="182.75" y="267.40" font-size="5.4" fill="#231f20" textLength="7.59" lengthAdjust="spacingAndGlyphs" >PN</text>
<text x="189.78" y="264.00" font-size="10.0" fill="#231f20" textLength="14.49" lengthAdjust="spacingAndGlyphs" >=13</text>
<text x="177.47" y="293.50" font-size="9.4" fill="#231f20" textLength="45.63" lengthAdjust="spacingAndGlyphs" >Charge [uC]</text>
<text x="11.70" y="250.07" font-size="12.8" fill="#231f20" textLength="27.62" lengthAdjust="spacingAndGlyphs" transform="rotate(-90 11.70 250.07)" >Prob</text>
<text x="150.11" y="326.90" font-size="12.6" fill="#231f20" textLength="112.43" lengthAdjust="spacingAndGlyphs" >Posterior tibial Nerve</text>
<path d="M43.21,440.70 L46.44,438.64 L48.83,436.58 L50.69,434.52 L52.19,432.46 L53.44,430.39 L54.50,428.33 L55.42,426.27 L56.23,424.21 L56.95,422.15 L57.60,420.09 L58.19,418.03 L58.74,415.97 L59.25,413.90 L59.72,411.84 L60.17,409.78 L60.60,407.72 L61.01,405.66 L61.40,403.60 L61.78,401.54 L62.15,399.48 L62.51,397.41 L62.87,395.35 L63.22,393.29 L63.57,391.23 L63.92,389.17 L64.27,387.11 L64.63,385.05 L64.99,382.99 L65.36,380.92 L65.74,378.86 L66.13,376.80 L66.54,374.74 L66.96,372.68 L67.40,370.62 L67.87,368.56 L68.37,366.50 L68.89,364.43 L69.46,362.37 L70.07,360.31 L70.74,358.25 L71.48,356.19 L72.29,354.13 L73.20,352.07 L74.24,350.01 L75.43,347.94 L76.83,345.88 L78.50,343.82 L80.54,341.76 L83.13,339.70 L173.00,339.70 L171.79,339.84 L170.58,340.01 L169.37,340.20 L168.16,340.42 L166.96,340.66 L165.75,340.91 L164.54,341.19 L163.33,341.47 L162.12,341.77 L160.91,342.08 L159.70,342.42 L158.49,342.79 L157.28,343.19 L156.07,343.62 L154.87,344.09 L153.66,344.61 L152.45,345.18 L151.24,345.81 L150.03,346.54 L148.82,347.38 L147.61,348.32 L146.40,349.34 L145.19,350.44 L143.98,351.61 L142.78,352.84 L141.57,354.13 L140.36,355.46 L139.15,356.83 L137.94,358.29 L136.73,359.92 L135.52,361.69 L134.31,363.58 L133.10,365.57 L131.89,367.64 L130.69,369.75 L129.48,371.90 L128.27,374.04 L127.06,376.17 L125.85,378.26 L124.64,380.37 L123.43,382.56 L122.22,384.80 L121.01,387.08 L119.80,389.36 L118.60,391.64 L117.39,393.89 L116.18,396.09 L114.97,398.22 L113.76,400.27 L112.55,402.22 L111.34,404.13 L110.13,406.03 L108.92,407.90 L107.71,409.74 L106.51,411.53 L105.30,413.26 L104.09,414.94 L102.88,416.54 L101.67,418.05 L100.46,419.48 L99.25,420.83 L98.04,422.15 L96.83,423.45 L95.62,424.71 L94.42,425.94 L93.21,427.12 L92.00,428.25 L90.79,429.31 L89.58,430.31 L88.37,431.23 L87.16,432.06 L85.95,432.80 L84.74,433.47 L83.53,434.12 L82.33,434.77 L81.12,435.40 L79.91,436.01 L78.70,436.60 L77.49,437.17 L76.28,437.71 L75.07,438.22 L73.86,438.69 L72.65,439.12 L71.44,439.51 L70.24,439.86 L69.03,440.15 L67.82,440.39 L66.61,440.58 L65.40,440.70 Z" fill="#d2ebec"/>
<path d="M55.51,440.70 L60.46,438.99 L64.27,437.28 L67.33,435.56 L69.85,433.85 L71.99,432.14 L73.83,430.43 L75.43,428.72 L76.85,427.01 L78.13,425.29 L79.28,423.58 L80.34,421.87 L81.31,420.16 L82.21,418.45 L83.05,416.73 L83.83,415.02 L84.58,413.31 L85.29,411.60 L85.96,409.89 L86.61,408.17 L87.24,406.46 L87.84,404.75 L88.43,403.04 L89.00,401.33 L89.57,399.62 L90.12,397.90 L90.67,396.19 L91.21,394.48 L91.75,392.77 L92.29,391.06 L92.83,389.34 L93.37,387.63 L93.92,385.92 L94.48,384.21 L95.04,382.50 L95.62,380.78 L96.21,379.07 L96.81,377.36 L97.43,375.65 L98.08,373.94 L98.75,372.23 L99.44,370.51 L100.17,368.80 L100.94,367.09 L101.74,365.38 L102.60,363.67 L103.51,361.95 L104.48,360.24 L105.53,358.53 L106.66,356.82 L107.88,355.11 L109.23,353.39 L110.72,351.68 L112.37,349.97 L114.23,348.26 L116.34,346.55 L118.77,344.84 L121.62,343.12 L125.02,341.41 L129.17,339.70" fill="none" stroke="#4cc1c7" stroke-width="1.5"/>
<path d="M46.73,444.10 L48.08,441.24 L48.91,438.37 L49.51,435.51 L49.97,432.64 L50.35,429.78 L50.67,426.92 L50.94,424.05 L51.19,421.19 L51.41,418.32 L51.61,415.46 L51.79,412.59 L51.97,409.73 L52.13,406.87 L52.29,404.00 L52.43,401.14 L52.58,398.27 L52.72,395.41 L52.85,392.55 L52.98,389.68 L53.11,386.82 L53.24,383.95 L53.37,381.09 L53.50,378.23 L53.64,375.36 L53.77,372.50 L53.91,369.63 L54.05,366.77 L54.20,363.91 L54.35,361.04 L54.52,358.18 L54.69,355.31 L54.89,352.45 L55.10,349.58 L55.35,346.72 L55.63,343.86 L55.98,340.99 L56.44,338.13 L57.09,335.26 L58.24,332.40" fill="none" stroke="#d3d2ee" stroke-width="5.6" stroke-linecap="butt"/>
<path d="M46.73,444.10 L48.08,441.24 L48.91,438.37 L49.51,435.51 L49.97,432.64 L50.35,429.78 L50.67,426.92 L50.94,424.05 L51.19,421.19 L51.41,418.32 L51.61,415.46 L51.79,412.59 L51.97,409.73 L52.13,406.87 L52.29,404.00 L52.43,401.14 L52.58,398.27 L52.72,395.41 L52.85,392.55 L52.98,389.68 L53.11,386.82 L53.24,383.95 L53.37,381.09 L53.50,378.23 L53.64,375.36 L53.77,372.50 L53.91,369.63 L54.05,366.77 L54.20,363.91 L54.35,361.04 L54.52,358.18 L54.69,355.31 L54.89,352.45 L55.10,349.58 L55.35,346.72 L55.63,343.86 L55.98,340.99 L56.44,338.13 L57.09,335.26 L58.24,332.40" fill="none" stroke="#2f3b93" stroke-width="1.75" stroke-linecap="round"/>
<line x1="27" y1="359.9" x2="105.4" y2="359.9" stroke="#7b7c7f" stroke-width="1.1" stroke-dasharray="8.5,6.5" stroke-dashoffset="1.0"/>
<line x1="27" y1="389.6" x2="92.3" y2="389.6" stroke="#7b7c7f" stroke-width="1.1" stroke-dasharray="8.5,6.5" stroke-dashoffset="1.0"/>
<line x1="52.3" y1="389.6" x2="52.3" y2="448.2" stroke="#7b7c7f" stroke-width="1.1" stroke-dasharray="8.5,6.5"/>
<line x1="53.7" y1="359.9" x2="53.7" y2="448.2" stroke="#7b7c7f" stroke-width="1.1" stroke-dasharray="8.5,6.5"/>
<line x1="92.3" y1="389.6" x2="92.3" y2="448.2" stroke="#7b7c7f" stroke-width="1.1" stroke-dasharray="8.5,6.5"/>
<line x1="105.4" y1="359.9" x2="105.4" y2="448.2" stroke="#7b7c7f" stroke-width="1.1" stroke-dasharray="8.5,6.5"/>
<line x1="27" y1="328.8" x2="27" y2="448.2" stroke="#6d6e71" stroke-width="1"/>
<line x1="27" y1="448.2" x2="216.5" y2="448.2" stroke="#6d6e71" stroke-width="1"/>
<line x1="27" y1="328.8" x2="29.8" y2="328.8" stroke="#6d6e71" stroke-width="0.9"/>
<text x="24.00" y="330.80" font-size="9.0" fill="#231f20" text-anchor="end" >1</text>
<line x1="27" y1="340.8" x2="29.8" y2="340.8" stroke="#6d6e71" stroke-width="0.9"/>
<text x="13.91" y="343.41" font-size="9.3" fill="#231f20" textLength="10.45" lengthAdjust="spacingAndGlyphs" >0.9</text>
<line x1="27" y1="364.8" x2="29.8" y2="364.8" stroke="#6d6e71" stroke-width="0.9"/>
<text x="13.91" y="367.43" font-size="9.3" fill="#231f20" textLength="10.47" lengthAdjust="spacingAndGlyphs" >0.7</text>
<line x1="27" y1="388.8" x2="29.8" y2="388.8" stroke="#6d6e71" stroke-width="0.9"/>
<text x="13.91" y="391.45" font-size="9.3" fill="#231f20" textLength="10.41" lengthAdjust="spacingAndGlyphs" >0.5</text>
<line x1="27" y1="412.9" x2="29.8" y2="412.9" stroke="#6d6e71" stroke-width="0.9"/>
<text x="13.91" y="415.47" font-size="9.3" fill="#231f20" textLength="10.42" lengthAdjust="spacingAndGlyphs" >0.3</text>
<line x1="27" y1="436.9" x2="29.8" y2="436.9" stroke="#6d6e71" stroke-width="0.9"/>
<text x="13.91" y="439.49" font-size="9.3" fill="#231f20" textLength="10.46" lengthAdjust="spacingAndGlyphs" >0.1</text>
<line x1="54.3" y1="448.2" x2="54.3" y2="445.9" stroke="#6d6e71" stroke-width="0.9"/>
<text x="54.30" y="457.00" font-size="8.4" fill="#231f20" text-anchor="middle" >2</text>
<line x1="108.6" y1="448.2" x2="108.6" y2="445.9" stroke="#6d6e71" stroke-width="0.9"/>
<text x="108.60" y="457.00" font-size="8.4" fill="#231f20" text-anchor="middle" >6</text>
<line x1="163.9" y1="448.2" x2="163.9" y2="445.9" stroke="#6d6e71" stroke-width="0.9"/>
<text x="163.90" y="457.00" font-size="8.4" fill="#231f20" text-anchor="middle" >10</text>
<line x1="216.5" y1="448.2" x2="216.5" y2="445.9" stroke="#6d6e71" stroke-width="0.9"/>
<text x="216.50" y="457.00" font-size="8.4" fill="#231f20" text-anchor="middle" >14</text>
<text x="173.21" y="406.30" font-size="10.0" fill="#231f20" textLength="6.08" lengthAdjust="spacingAndGlyphs" >N</text>
<text x="179.34" y="409.90" font-size="6.2" fill="#231f20" textLength="3.76" lengthAdjust="spacingAndGlyphs" >C</text>
<text x="182.47" y="406.30" font-size="10.0" fill="#231f20" textLength="15.07" lengthAdjust="spacingAndGlyphs" >=41</text>
<text x="173.21" y="418.70" font-size="10.0" fill="#231f20" textLength="6.08" lengthAdjust="spacingAndGlyphs" >N</text>
<text x="179.59" y="422.10" font-size="5.4" fill="#231f20" textLength="7.03" lengthAdjust="spacingAndGlyphs" >PN</text>
<text x="185.74" y="418.70" font-size="10.0" fill="#231f20" textLength="15.82" lengthAdjust="spacingAndGlyphs" >=12</text>
<text x="175.17" y="441.90" font-size="9.4" fill="#231f20" textLength="45.84" lengthAdjust="spacingAndGlyphs" >Charge [uC]</text>
<text x="9.50" y="397.07" font-size="12.8" fill="#231f20" textLength="27.62" lengthAdjust="spacingAndGlyphs" transform="rotate(-90 9.50 397.07)" >Prob</text>
<text x="171.47" y="471.60" font-size="12.6" fill="#231f20" textLength="61.75" lengthAdjust="spacingAndGlyphs" >Sural Nerve</text>
<path d="M36.10,578.10 L38.45,576.17 L40.41,574.24 L42.08,572.31 L43.52,570.39 L44.79,568.46 L45.92,566.53 L46.94,564.60 L47.86,562.67 L48.71,560.74 L49.49,558.81 L50.21,556.89 L50.89,554.96 L51.52,553.03 L52.12,551.10 L52.69,549.17 L53.24,547.24 L53.76,545.31 L54.27,543.39 L54.76,541.46 L55.23,539.53 L55.70,537.60 L56.16,535.67 L56.61,533.74 L57.06,531.81 L57.50,529.89 L57.95,527.96 L58.40,526.03 L58.85,524.10 L59.30,522.17 L59.77,520.24 L60.24,518.31 L60.73,516.39 L61.23,514.46 L61.76,512.53 L62.30,510.60 L62.88,508.67 L63.48,506.74 L64.13,504.81 L64.81,502.89 L65.56,500.96 L66.36,499.03 L67.24,497.10 L68.22,495.17 L69.31,493.24 L70.55,491.31 L71.97,489.39 L73.63,487.46 L75.61,485.53 L78.03,483.60 L211.90,483.60 L210.35,483.62 L208.81,483.68 L207.26,483.77 L205.71,483.89 L204.16,484.04 L202.62,484.20 L201.07,484.37 L199.52,484.56 L197.98,484.83 L196.43,485.17 L194.88,485.57 L193.33,486.01 L191.79,486.47 L190.24,486.92 L188.69,487.39 L187.14,487.88 L185.60,488.39 L184.05,488.93 L182.50,489.49 L180.96,490.08 L179.41,490.71 L177.86,491.36 L176.31,492.05 L174.77,492.77 L173.22,493.54 L171.67,494.37 L170.13,495.26 L168.58,496.22 L167.03,497.26 L165.48,498.36 L163.94,499.54 L162.39,500.80 L160.84,502.17 L159.30,503.75 L157.75,505.52 L156.20,507.42 L154.65,509.41 L153.11,511.44 L151.56,513.46 L150.01,515.50 L148.47,517.63 L146.92,519.83 L145.37,522.07 L143.82,524.31 L142.28,526.55 L140.73,528.74 L139.18,530.95 L137.63,533.20 L136.09,535.46 L134.54,537.67 L132.99,539.81 L131.45,541.82 L129.90,543.69 L128.35,545.48 L126.80,547.21 L125.26,548.88 L123.71,550.50 L122.16,552.07 L120.62,553.57 L119.07,555.02 L117.52,556.40 L115.97,557.72 L114.43,559.01 L112.88,560.30 L111.33,561.58 L109.79,562.83 L108.24,564.06 L106.69,565.26 L105.14,566.41 L103.60,567.50 L102.05,568.54 L100.50,569.51 L98.96,570.41 L97.41,571.22 L95.86,571.94 L94.31,572.57 L92.77,573.18 L91.22,573.77 L89.67,574.35 L88.12,574.90 L86.58,575.42 L85.03,575.92 L83.48,576.37 L81.94,576.79 L80.39,577.16 L78.84,577.48 L77.29,577.75 L75.75,577.96 L74.20,578.10 Z" fill="#d2ebec"/>
<path d="M55.13,578.10 L58.88,576.49 L62.14,574.89 L65.01,573.28 L67.57,571.68 L69.87,570.07 L71.97,568.47 L73.90,566.86 L75.68,565.26 L77.34,563.65 L78.89,562.05 L80.34,560.44 L81.72,558.84 L83.02,557.23 L84.26,555.63 L85.45,554.02 L86.59,552.42 L87.69,550.81 L88.75,549.21 L89.78,547.60 L90.78,546.00 L91.75,544.39 L92.71,542.79 L93.64,541.18 L94.56,539.58 L95.46,537.97 L96.36,536.37 L97.24,534.76 L98.12,533.16 L99.00,531.55 L99.87,529.95 L100.75,528.34 L101.62,526.74 L102.50,525.13 L103.39,523.53 L104.29,521.92 L105.20,520.32 L106.12,518.71 L107.06,517.11 L108.02,515.50 L109.00,513.90 L110.02,512.29 L111.06,510.69 L112.14,509.08 L113.26,507.48 L114.43,505.87 L115.65,504.27 L116.93,502.66 L118.29,501.06 L119.72,499.45 L121.26,497.85 L122.90,496.24 L124.68,494.64 L126.61,493.03 L128.73,491.43 L131.08,489.82 L133.71,488.22 L136.69,486.61 L140.13,485.01 L144.16,483.40" fill="none" stroke="#4cc1c7" stroke-width="1.5"/>
<path d="M41.15,589.40 L42.25,586.47 L42.89,583.54 L43.35,580.62 L43.72,577.69 L44.03,574.76 L44.30,571.83 L44.54,568.90 L44.76,565.97 L44.96,563.05 L45.15,560.12 L45.33,557.19 L45.50,554.26 L45.67,551.33 L45.83,548.41 L45.98,545.48 L46.14,542.55 L46.29,539.62 L46.44,536.69 L46.58,533.76 L46.73,530.84 L46.88,527.91 L47.03,524.98 L47.18,522.05 L47.34,519.12 L47.50,516.19 L47.66,513.27 L47.83,510.34 L48.01,507.41 L48.20,504.48 L48.40,501.55 L48.61,498.63 L48.84,495.70 L49.09,492.77 L49.38,489.84 L49.70,486.91 L50.09,483.98 L50.57,481.06 L51.21,478.13 L52.22,475.20" fill="none" stroke="#d3d2ee" stroke-width="3.6" stroke-linecap="butt"/>
<path d="M41.15,589.40 L42.25,586.47 L42.89,583.54 L43.35,580.62 L43.72,577.69 L44.03,574.76 L44.30,571.83 L44.54,568.90 L44.76,565.97 L44.96,563.05 L45.15,560.12 L45.33,557.19 L45.50,554.26 L45.67,551.33 L45.83,548.41 L45.98,545.48 L46.14,542.55 L46.29,539.62 L46.44,536.69 L46.58,533.76 L46.73,530.84 L46.88,527.91 L47.03,524.98 L47.18,522.05 L47.34,519.12 L47.50,516.19 L47.66,513.27 L47.83,510.34 L48.01,507.41 L48.20,504.48 L48.40,501.55 L48.61,498.63 L48.84,495.70 L49.09,492.77 L49.38,489.84 L49.70,486.91 L50.09,483.98 L50.57,481.06 L51.21,478.13 L52.22,475.20" fill="none" stroke="#2f3b93" stroke-width="1.75" stroke-linecap="round"/>
<line x1="24.5" y1="502.4" x2="117.6" y2="502.4" stroke="#7b7c7f" stroke-width="1.1" stroke-dasharray="8.5,6.5" stroke-dashoffset="0.0"/>
<line x1="24.5" y1="532.2" x2="99.7" y2="532.2" stroke="#7b7c7f" stroke-width="1.1" stroke-dasharray="8.5,6.5" stroke-dashoffset="0.0"/>
<line x1="47" y1="532.6" x2="47" y2="592.8" stroke="#7b7c7f" stroke-width="1.1" stroke-dasharray="8.5,6.5"/>
<line x1="48.1" y1="502.4" x2="48.1" y2="592.8" stroke="#7b7c7f" stroke-width="1.1" stroke-dasharray="8.5,6.5"/>
<line x1="99.7" y1="532.2" x2="99.7" y2="592.8" stroke="#7b7c7f" stroke-width="1.1" stroke-dasharray="8.5,6.5"/>
<line x1="118" y1="502.4" x2="118" y2="592.8" stroke="#7b7c7f" stroke-width="1.1" stroke-dasharray="8.5,6.5"/>
<line x1="24.5" y1="471.4" x2="24.5" y2="592.8" stroke="#6d6e71" stroke-width="1"/>
<line x1="24.5" y1="592.8" x2="216.5" y2="592.8" stroke="#6d6e71" stroke-width="1"/>
<line x1="24.5" y1="471.4" x2="27.3" y2="471.4" stroke="#6d6e71" stroke-width="0.9"/>
<text x="21.50" y="473.40" font-size="9.0" fill="#231f20" text-anchor="end" >1</text>
<line x1="24.5" y1="483.4" x2="27.3" y2="483.4" stroke="#6d6e71" stroke-width="0.9"/>
<text x="11.41" y="486.04" font-size="9.3" fill="#231f20" textLength="10.45" lengthAdjust="spacingAndGlyphs" >0.9</text>
<line x1="24.5" y1="507.5" x2="27.3" y2="507.5" stroke="#6d6e71" stroke-width="0.9"/>
<text x="11.41" y="510.12" font-size="9.3" fill="#231f20" textLength="10.47" lengthAdjust="spacingAndGlyphs" >0.7</text>
<line x1="24.5" y1="531.6" x2="27.3" y2="531.6" stroke="#6d6e71" stroke-width="0.9"/>
<text x="11.41" y="534.20" font-size="9.3" fill="#231f20" textLength="10.41" lengthAdjust="spacingAndGlyphs" >0.5</text>
<line x1="24.5" y1="555.7" x2="27.3" y2="555.7" stroke="#6d6e71" stroke-width="0.9"/>
<text x="11.41" y="558.28" font-size="9.3" fill="#231f20" textLength="10.42" lengthAdjust="spacingAndGlyphs" >0.3</text>
<line x1="24.5" y1="579.8" x2="27.3" y2="579.8" stroke="#6d6e71" stroke-width="0.9"/>
<text x="11.41" y="582.36" font-size="9.3" fill="#231f20" textLength="10.46" lengthAdjust="spacingAndGlyphs" >0.1</text>
<line x1="50.9" y1="592.8" x2="50.9" y2="590.5" stroke="#6d6e71" stroke-width="0.9"/>
<text x="50.90" y="601.60" font-size="8.4" fill="#231f20" text-anchor="middle" >2</text>
<line x1="106.7" y1="592.8" x2="106.7" y2="590.5" stroke="#6d6e71" stroke-width="0.9"/>
<text x="106.70" y="601.60" font-size="8.4" fill="#231f20" text-anchor="middle" >6</text>
<line x1="161.8" y1="592.8" x2="161.8" y2="590.5" stroke="#6d6e71" stroke-width="0.9"/>
<text x="161.80" y="601.60" font-size="8.4" fill="#231f20" text-anchor="middle" >10</text>
<line x1="216.5" y1="592.8" x2="216.5" y2="590.5" stroke="#6d6e71" stroke-width="0.9"/>
<text x="216.50" y="601.60" font-size="8.4" fill="#231f20" text-anchor="middle" >14</text>
<text x="176.81" y="553.30" font-size="10.0" fill="#231f20" textLength="6.08" lengthAdjust="spacingAndGlyphs" >N</text>
<text x="182.74" y="556.90" font-size="6.2" fill="#231f20" textLength="3.65" lengthAdjust="spacingAndGlyphs" >C</text>
<text x="186.07" y="553.30" font-size="10.0" fill="#231f20" textLength="14.86" lengthAdjust="spacingAndGlyphs" >=41</text>
<text x="176.81" y="566.00" font-size="10.0" fill="#231f20" textLength="6.08" lengthAdjust="spacingAndGlyphs" >N</text>
<text x="182.99" y="569.40" font-size="5.4" fill="#231f20" textLength="7.03" lengthAdjust="spacingAndGlyphs" >PN</text>
<text x="189.35" y="566.00" font-size="10.0" fill="#231f20" textLength="15.62" lengthAdjust="spacingAndGlyphs" >=14</text>
<text x="174.87" y="586.50" font-size="9.4" fill="#231f20" textLength="45.94" lengthAdjust="spacingAndGlyphs" >Charge [uC]</text>
<text x="9.50" y="546.07" font-size="12.8" fill="#231f20" textLength="27.62" lengthAdjust="spacingAndGlyphs" transform="rotate(-90 9.50 546.07)" >Prob</text>
<line x1="254.5" y1="190.0" x2="254.5" y2="301.5" stroke="#808285" stroke-width="1"/>
<line x1="254.5" y1="301.5" x2="338.7" y2="301.5" stroke="#a7a9ac" stroke-width="1.1"/>
<line x1="254.5" y1="297.6" x2="256.5" y2="297.6" stroke="#808285" stroke-width="0.8"/>
<text x="253.30" y="300.50" font-size="8.4" fill="#231f20" text-anchor="end" >0</text>
<line x1="254.5" y1="270.7" x2="256.5" y2="270.7" stroke="#808285" stroke-width="0.8"/>
<text x="253.30" y="273.60" font-size="8.4" fill="#231f20" text-anchor="end" >1</text>
<line x1="254.5" y1="243.8" x2="256.5" y2="243.8" stroke="#808285" stroke-width="0.8"/>
<text x="253.30" y="246.70" font-size="8.4" fill="#231f20" text-anchor="end" >2</text>
<line x1="254.5" y1="216.9" x2="256.5" y2="216.9" stroke="#808285" stroke-width="0.8"/>
<text x="253.30" y="219.80" font-size="8.4" fill="#231f20" text-anchor="end" >3</text>
<line x1="254.5" y1="190.0" x2="256.5" y2="190.0" stroke="#808285" stroke-width="0.8"/>
<text x="253.30" y="192.90" font-size="8.4" fill="#231f20" text-anchor="end" >4</text>
<rect x="258.9" y="294.1" width="33.7" height="1.9" fill="#c4c3e6"/>
<line x1="258.9" y1="294.9" x2="292.6" y2="294.9" stroke="#3a3b88" stroke-width="1.9"/>
<line x1="275.6" y1="292.2" x2="275.6" y2="298.1" stroke="#6d6e71" stroke-width="0.8"/>
<line x1="267.20000000000005" y1="292.2" x2="284.0" y2="292.2" stroke="#939598" stroke-width="0.9"/>
<line x1="267.20000000000005" y1="298.1" x2="284.0" y2="298.1" stroke="#939598" stroke-width="0.9"/>
<line x1="317.9" y1="276.1" x2="317.9" y2="296.3" stroke="#58595b" stroke-width="0.9"/>
<line x1="309.6" y1="276.1" x2="326.2" y2="276.1" stroke="#808285" stroke-width="0.9"/>
<line x1="309.6" y1="296.3" x2="326.2" y2="296.3" stroke="#808285" stroke-width="0.9"/>
<rect x="301" y="276.1" width="33.8" height="10.8" fill="#99d5dc"/>
<line x1="301" y1="284.2" x2="334.8" y2="284.2" stroke="#3d5f61" stroke-width="1"/>
<path d="M275.3,218.60000000000002 L275.3,216.8 L314.7,216.8 L314.7,218.60000000000002" fill="none" stroke="#808285" stroke-width="0.8"/>
<path d="M284.95,209.30 L290.45,209.30 M286.32,206.92 L289.07,211.68 M289.07,206.92 L286.32,211.68 M292.25,209.30 L297.75,209.30 M293.62,206.92 L296.38,211.68 M296.38,206.92 L293.62,211.68 M299.55,209.30 L305.05,209.30 M300.93,206.92 L303.68,211.68 M303.68,206.92 L300.93,211.68 " stroke="#414042" stroke-width="1.15" fill="none"/>
<text x="243.30" y="271.95" font-size="9.4" fill="#231f20" textLength="39.04" lengthAdjust="spacingAndGlyphs" transform="rotate(-90 243.30 271.95)" >JND [uC]</text>
<line x1="255.3" y1="336.5" x2="255.3" y2="449.6" stroke="#808285" stroke-width="1"/>
<line x1="255.3" y1="449.6" x2="338.7" y2="449.6" stroke="#a7a9ac" stroke-width="1.1"/>
<line x1="255.3" y1="445.7" x2="257.3" y2="445.7" stroke="#808285" stroke-width="0.8"/>
<text x="254.10" y="448.60" font-size="8.4" fill="#231f20" text-anchor="end" >0</text>
<line x1="255.3" y1="418.4" x2="257.3" y2="418.4" stroke="#808285" stroke-width="0.8"/>
<text x="254.10" y="421.30" font-size="8.4" fill="#231f20" text-anchor="end" >1</text>
<line x1="255.3" y1="391.1" x2="257.3" y2="391.1" stroke="#808285" stroke-width="0.8"/>
<text x="254.10" y="394.00" font-size="8.4" fill="#231f20" text-anchor="end" >2</text>
<line x1="255.3" y1="363.8" x2="257.3" y2="363.8" stroke="#808285" stroke-width="0.8"/>
<text x="254.10" y="366.70" font-size="8.4" fill="#231f20" text-anchor="end" >3</text>
<line x1="255.3" y1="336.5" x2="257.3" y2="336.5" stroke="#808285" stroke-width="0.8"/>
<text x="254.10" y="339.40" font-size="8.4" fill="#231f20" text-anchor="end" >4</text>
<rect x="262.6" y="441.6" width="32.1" height="3.3" fill="#c4c3e6"/>
<line x1="262.6" y1="443.0" x2="294.7" y2="443.0" stroke="#3a3b88" stroke-width="1.9"/>
<line x1="278.7" y1="440.5" x2="278.7" y2="446.2" stroke="#6d6e71" stroke-width="0.8"/>
<line x1="270.3" y1="440.5" x2="287.09999999999997" y2="440.5" stroke="#939598" stroke-width="0.9"/>
<line x1="270.3" y1="446.2" x2="287.09999999999997" y2="446.2" stroke="#939598" stroke-width="0.9"/>
<line x1="318.9" y1="369.3" x2="318.9" y2="443.0" stroke="#58595b" stroke-width="0.9"/>
<line x1="310.6" y1="369.3" x2="327.2" y2="369.3" stroke="#808285" stroke-width="0.9"/>
<line x1="310.6" y1="443.0" x2="327.2" y2="443.0" stroke="#808285" stroke-width="0.9"/>
<rect x="302.8" y="380.2" width="32.1" height="55.1" fill="#99d5dc"/>
<line x1="302.8" y1="418.4" x2="334.9" y2="418.4" stroke="#3d5f61" stroke-width="1"/>
<path d="M278.1,349.1 L278.1,347.3 L317.5,347.3 L317.5,349.1" fill="none" stroke="#808285" stroke-width="0.8"/>
<path d="M287.75,340.20 L293.25,340.20 M289.12,337.82 L291.88,342.58 M291.88,337.82 L289.12,342.58 M295.05,340.20 L300.55,340.20 M296.43,337.82 L299.18,342.58 M299.18,337.82 L296.43,342.58 M302.35,340.20 L307.85,340.20 M303.73,337.82 L306.48,342.58 M306.48,337.82 L303.73,342.58 " stroke="#414042" stroke-width="1.15" fill="none"/>
<text x="242.80" y="417.55" font-size="9.4" fill="#231f20" textLength="37.91" lengthAdjust="spacingAndGlyphs" transform="rotate(-90 242.80 417.55)" >JND [uC]</text>
<line x1="254.6" y1="479.2" x2="254.6" y2="592.9" stroke="#808285" stroke-width="1"/>
<line x1="254.6" y1="592.9" x2="338.7" y2="592.9" stroke="#a7a9ac" stroke-width="1.1"/>
<line x1="254.6" y1="587.8" x2="256.6" y2="587.8" stroke="#808285" stroke-width="0.8"/>
<text x="253.40" y="590.70" font-size="8.4" fill="#231f20" text-anchor="end" >0</text>
<line x1="254.6" y1="560.6" x2="256.6" y2="560.6" stroke="#808285" stroke-width="0.8"/>
<text x="253.40" y="563.55" font-size="8.4" fill="#231f20" text-anchor="end" >1</text>
<line x1="254.6" y1="533.5" x2="256.6" y2="533.5" stroke="#808285" stroke-width="0.8"/>
<text x="253.40" y="536.40" font-size="8.4" fill="#231f20" text-anchor="end" >2</text>
<line x1="254.6" y1="506.3" x2="256.6" y2="506.3" stroke="#808285" stroke-width="0.8"/>
<text x="253.40" y="509.25" font-size="8.4" fill="#231f20" text-anchor="end" >3</text>
<line x1="254.6" y1="479.2" x2="256.6" y2="479.2" stroke="#808285" stroke-width="0.8"/>
<text x="253.40" y="482.10" font-size="8.4" fill="#231f20" text-anchor="end" >4</text>
<rect x="260.1" y="585.6" width="33.2" height="1.1" fill="#c4c3e6"/>
<line x1="260.1" y1="586.2" x2="293.3" y2="586.2" stroke="#3a3b88" stroke-width="1.9"/>
<line x1="276.6" y1="583.5" x2="276.6" y2="588.3" stroke="#6d6e71" stroke-width="0.8"/>
<line x1="268.20000000000005" y1="583.5" x2="285.0" y2="583.5" stroke="#939598" stroke-width="0.9"/>
<line x1="268.20000000000005" y1="588.3" x2="285.0" y2="588.3" stroke="#939598" stroke-width="0.9"/>
<line x1="317.8" y1="479.2" x2="317.8" y2="587.8" stroke="#58595b" stroke-width="0.9"/>
<line x1="309.4" y1="479.2" x2="326.1" y2="479.2" stroke="#808285" stroke-width="0.9"/>
<line x1="309.4" y1="587.8" x2="326.1" y2="587.8" stroke="#808285" stroke-width="0.9"/>
<rect x="301.3" y="513.1" width="32.9" height="67.1" fill="#99d5dc"/>
<line x1="301.3" y1="554.4" x2="334.2" y2="554.4" stroke="#3d5f61" stroke-width="1"/>
<path d="M276.2,476.1 L276.2,474.3 L316.4,474.3 L316.4,476.1" fill="none" stroke="#808285" stroke-width="0.8"/>
<path d="M286.25,467.40 L291.75,467.40 M287.62,465.02 L290.37,469.78 M290.37,465.02 L287.62,469.78 M293.55,467.40 L299.05,467.40 M294.92,465.02 L297.67,469.78 M297.67,465.02 L294.92,469.78 M300.85,467.40 L306.35,467.40 M302.22,465.02 L304.97,469.78 M304.97,465.02 L302.22,469.78 " stroke="#414042" stroke-width="1.15" fill="none"/>
<text x="242.30" y="561.15" font-size="9.4" fill="#231f20" textLength="39.04" lengthAdjust="spacingAndGlyphs" transform="rotate(-90 242.30 561.15)" >JND [uC]</text>
<circle cx="362" cy="158.7" r="12.3" fill="#e6e7e8" stroke="#3a3a3c" stroke-width="1.1"/>
<text x="356.99" y="164.50" font-size="16.6" fill="#231f20" textLength="10.03" lengthAdjust="spacingAndGlyphs" >C</text>
<text x="388.15" y="161.60" font-size="11.7" fill="#231f20" textLength="261.38" lengthAdjust="spacingAndGlyphs" >Perceptual sensation threshold is higher in PN</text>
<rect x="564.2" y="179.2" width="10.6" height="10.8" fill="#6565a9"/>
<rect x="564.7" y="192" width="10.2" height="10.4" fill="#65cace"/>
<text x="576.89" y="188.10" font-size="10.6" fill="#231f20" textLength="38.71" lengthAdjust="spacingAndGlyphs" >Control</text>
<text x="576.40" y="201.50" font-size="10.6" fill="#231f20" textLength="15.19" lengthAdjust="spacingAndGlyphs" >PN</text>
<line x1="379.3" y1="190.6" x2="379.3" y2="333.3" stroke="#231f20" stroke-width="1"/>
<line x1="379.3" y1="333.3" x2="676.6" y2="333.3" stroke="#6d6e71" stroke-width="1"/>
<line x1="377.2" y1="333.1" x2="379.3" y2="333.1" stroke="#231f20" stroke-width="0.9"/>
<text x="376.60" y="336.40" font-size="9.9" fill="#231f20" text-anchor="end" >0</text>
<line x1="377.2" y1="285.7" x2="379.3" y2="285.7" stroke="#231f20" stroke-width="0.9"/>
<text x="376.60" y="289.00" font-size="9.9" fill="#231f20" text-anchor="end" >10</text>
<line x1="377.2" y1="238.3" x2="379.3" y2="238.3" stroke="#231f20" stroke-width="0.9"/>
<text x="376.60" y="241.60" font-size="9.9" fill="#231f20" text-anchor="end" >20</text>
<line x1="377.2" y1="190.9" x2="379.3" y2="190.9" stroke="#231f20" stroke-width="0.9"/>
<text x="376.60" y="194.20" font-size="9.9" fill="#231f20" text-anchor="end" >30</text>
<text x="364.50" y="271.15" font-size="12" fill="#231f20" textLength="24.81" lengthAdjust="spacingAndGlyphs" transform="rotate(-90 364.50 271.15)" >[µC]</text>
<rect x="395.2" y="319.8" width="30.1" height="3.8" fill="#5c5eab"/>
<line x1="395.2" y1="322.2" x2="425.3" y2="322.2" stroke="#2b2d5c" stroke-width="1.1"/>
<line x1="410.2" y1="316.5" x2="410.2" y2="326.5" stroke="#231f20" stroke-width="0.9"/>
<line x1="402.6" y1="316.5" x2="417.9" y2="316.5" stroke="#231f20" stroke-width="0.9"/>
<line x1="402.6" y1="326.5" x2="417.9" y2="326.5" stroke="#231f20" stroke-width="0.9"/>
<line x1="448.4" y1="254.9" x2="448.4" y2="328.4" stroke="#231f20" stroke-width="0.9"/>
<line x1="440.8" y1="254.9" x2="456.0" y2="254.9" stroke="#231f20" stroke-width="1"/>
<line x1="440.8" y1="328.4" x2="456.0" y2="328.4" stroke="#231f20" stroke-width="1"/>
<rect x="433.6" y="294.2" width="29.5" height="26.1" fill="#65cace"/>
<line x1="433.6" y1="311.3" x2="463.1" y2="311.3" stroke="#2b3d40" stroke-width="1"/>
<path d="M412.4,207.8 L412.4,204.9 L451.6,204.9 L451.6,207.8" fill="none" stroke="#b1b3b6" stroke-width="1.1"/>
<path d="M424.30,199.30 L428.50,199.30 M425.35,197.48 L427.45,201.12 M427.45,197.48 L425.35,201.12 M429.90,199.30 L434.10,199.30 M430.95,197.48 L433.05,201.12 M433.05,197.48 L430.95,201.12 M435.50,199.30 L439.70,199.30 M436.55,197.48 L438.65,201.12 M438.65,197.48 L436.55,201.12 " stroke="#414042" stroke-width="1.0" fill="none"/>
<text x="394.38" y="345.50" font-size="10.2" fill="#231f20" textLength="69.16" lengthAdjust="spacingAndGlyphs" >Peroneal Nerve</text>
<text x="397.18" y="290.80" font-size="9.6" fill="#231f20" textLength="6.33" lengthAdjust="spacingAndGlyphs" >N</text>
<text x="403.13" y="294.60" font-size="6.2" fill="#231f20" textLength="3.88" lengthAdjust="spacingAndGlyphs" >C</text>
<text x="406.70" y="290.80" font-size="9.6" fill="#231f20" textLength="14.01" lengthAdjust="spacingAndGlyphs" >=41</text>
<text x="397.18" y="303.50" font-size="9.6" fill="#231f20" textLength="6.33" lengthAdjust="spacingAndGlyphs" >N</text>
<text x="403.50" y="306.70" font-size="6.0" fill="#231f20" textLength="6.80" lengthAdjust="spacingAndGlyphs" >PN</text>
<text x="409.75" y="303.50" font-size="9.6" fill="#231f20" textLength="15.61" lengthAdjust="spacingAndGlyphs" >=22</text>
<rect x="500.4" y="319.4" width="30.5" height="5.7" fill="#5c5eab"/>
<line x1="500.4" y1="322.7" x2="530.9" y2="322.7" stroke="#2b2d5c" stroke-width="1.1"/>
<line x1="515.6" y1="314.1" x2="515.6" y2="327.6" stroke="#231f20" stroke-width="0.9"/>
<line x1="507.9" y1="314.1" x2="523.4" y2="314.1" stroke="#231f20" stroke-width="0.9"/>
<line x1="507.9" y1="327.6" x2="523.4" y2="327.6" stroke="#231f20" stroke-width="0.9"/>
<line x1="553.3" y1="225.0" x2="553.3" y2="328.8" stroke="#231f20" stroke-width="0.9"/>
<line x1="545.7" y1="225.0" x2="560.9" y2="225.0" stroke="#231f20" stroke-width="1"/>
<line x1="545.7" y1="328.8" x2="560.9" y2="328.8" stroke="#231f20" stroke-width="1"/>
<rect x="538.4" y="281.9" width="29.9" height="39.8" fill="#65cace"/>
<line x1="538.4" y1="305.1" x2="568.3" y2="305.1" stroke="#2b3d40" stroke-width="1"/>
<path d="M512.9,207.4 L512.9,204.5 L552.4,204.5 L552.4,207.4" fill="none" stroke="#b1b3b6" stroke-width="1.1"/>
<path d="M524.95,198.90 L529.15,198.90 M526.00,197.08 L528.10,200.72 M528.10,197.08 L526.00,200.72 M530.55,198.90 L534.75,198.90 M531.60,197.08 L533.70,200.72 M533.70,197.08 L531.60,200.72 M536.15,198.90 L540.35,198.90 M537.20,197.08 L539.30,200.72 M539.30,197.08 L537.20,200.72 " stroke="#414042" stroke-width="1.0" fill="none"/>
<text x="490.18" y="345.50" font-size="10.2" fill="#231f20" textLength="95.66" lengthAdjust="spacingAndGlyphs" >Posterior Tibial Nerve</text>
<text x="500.28" y="290.80" font-size="9.6" fill="#231f20" textLength="6.33" lengthAdjust="spacingAndGlyphs" >N</text>
<text x="506.23" y="294.60" font-size="6.2" fill="#231f20" textLength="3.88" lengthAdjust="spacingAndGlyphs" >C</text>
<text x="509.80" y="290.80" font-size="9.6" fill="#231f20" textLength="14.01" lengthAdjust="spacingAndGlyphs" >=41</text>
<text x="500.28" y="303.50" font-size="9.6" fill="#231f20" textLength="6.33" lengthAdjust="spacingAndGlyphs" >N</text>
<text x="506.60" y="306.70" font-size="6.0" fill="#231f20" textLength="6.80" lengthAdjust="spacingAndGlyphs" >PN</text>
<text x="512.85" y="303.50" font-size="9.6" fill="#231f20" textLength="15.61" lengthAdjust="spacingAndGlyphs" >=22</text>
<rect x="605.1" y="322.2" width="29.9" height="3.3" fill="#5c5eab"/>
<line x1="605.1" y1="324.1" x2="635" y2="324.1" stroke="#2b2d5c" stroke-width="1.1"/>
<line x1="620.0" y1="318.4" x2="620.0" y2="328.8" stroke="#231f20" stroke-width="0.9"/>
<line x1="612.3" y1="318.4" x2="627.8" y2="318.4" stroke="#231f20" stroke-width="0.9"/>
<line x1="612.3" y1="328.8" x2="627.8" y2="328.8" stroke="#231f20" stroke-width="0.9"/>
<line x1="657.8" y1="244.0" x2="657.8" y2="328.8" stroke="#231f20" stroke-width="0.9"/>
<line x1="650.2" y1="244.0" x2="665.4" y2="244.0" stroke="#231f20" stroke-width="1"/>
<line x1="650.2" y1="328.8" x2="665.4" y2="328.8" stroke="#231f20" stroke-width="1"/>
<rect x="643.1" y="286.2" width="29.4" height="37.4" fill="#65cace"/>
<line x1="643.1" y1="319.4" x2="672.5" y2="319.4" stroke="#2b3d40" stroke-width="1"/>
<path d="M625.2,207.4 L625.2,204.5 L663.2,204.5 L663.2,207.4" fill="none" stroke="#b1b3b6" stroke-width="1.1"/>
<path d="M636.50,198.90 L640.70,198.90 M637.55,197.08 L639.65,200.72 M639.65,197.08 L637.55,200.72 M642.10,198.90 L646.30,198.90 M643.15,197.08 L645.25,200.72 M645.25,197.08 L643.15,200.72 M647.70,198.90 L651.90,198.90 M648.75,197.08 L650.85,200.72 M650.85,197.08 L648.75,200.72 " stroke="#414042" stroke-width="1.0" fill="none"/>
<text x="617.25" y="345.50" font-size="10.2" fill="#231f20" textLength="51.78" lengthAdjust="spacingAndGlyphs" >Sural Nerve</text>
<text x="604.38" y="290.80" font-size="9.6" fill="#231f20" textLength="6.33" lengthAdjust="spacingAndGlyphs" >N</text>
<text x="610.33" y="294.60" font-size="6.2" fill="#231f20" textLength="3.88" lengthAdjust="spacingAndGlyphs" >C</text>
<text x="613.90" y="290.80" font-size="9.6" fill="#231f20" textLength="14.01" lengthAdjust="spacingAndGlyphs" >=41</text>
<text x="604.38" y="303.50" font-size="9.6" fill="#231f20" textLength="6.33" lengthAdjust="spacingAndGlyphs" >N</text>
<text x="610.70" y="306.70" font-size="6.0" fill="#231f20" textLength="6.80" lengthAdjust="spacingAndGlyphs" >PN</text>
<text x="616.95" y="303.50" font-size="9.6" fill="#231f20" textLength="15.61" lengthAdjust="spacingAndGlyphs" >=22</text>
<circle cx="362.1" cy="369" r="12.3" fill="#e6e7e8" stroke="#3a3a3c" stroke-width="1.1"/>
<text x="355.84" y="374.70" font-size="16.6" fill="#231f20" textLength="11.10" lengthAdjust="spacingAndGlyphs" >D</text>
<text x="396.72" y="368.90" font-size="13" fill="#231f20" textLength="249.42" lengthAdjust="spacingAndGlyphs" >Sensory restoration capabilities depends on</text>
<text x="465.73" y="385.10" font-size="13" fill="#231f20" textLength="113.43" lengthAdjust="spacingAndGlyphs" >nerve degeneration</text>
<rect x="397.6" y="398.9" width="203.6" height="32.2" fill="#6565a9"/>
<text x="456.57" y="420.40" font-size="13.4" fill="#fff" textLength="87.17" lengthAdjust="spacingAndGlyphs" >Control range</text>
<rect x="397.6" y="462.9" width="203.6" height="8.9" fill="#fed58f"/>
<line x1="397.6" y1="396.5" x2="397.6" y2="574.3" stroke="#231f20" stroke-width="1.1"/>
<line x1="397.6" y1="574.3" x2="601.3" y2="574.3" stroke="#6d6e71" stroke-width="1.1"/>
<line x1="397.6" y1="566.6" x2="400" y2="566.6" stroke="#231f20" stroke-width="0.9"/>
<text x="394.60" y="570.20" font-size="10.1" fill="#231f20" text-anchor="end" >0</text>
<line x1="397.6" y1="538.3" x2="400" y2="538.3" stroke="#231f20" stroke-width="0.9"/>
<text x="394.60" y="541.92" font-size="10.1" fill="#231f20" text-anchor="end" >10</text>
<line x1="397.6" y1="510.0" x2="400" y2="510.0" stroke="#231f20" stroke-width="0.9"/>
<text x="394.60" y="513.64" font-size="10.1" fill="#231f20" text-anchor="end" >20</text>
<line x1="397.6" y1="481.8" x2="400" y2="481.8" stroke="#231f20" stroke-width="0.9"/>
<text x="394.60" y="485.36" font-size="10.1" fill="#231f20" text-anchor="end" >30</text>
<line x1="397.6" y1="453.5" x2="400" y2="453.5" stroke="#231f20" stroke-width="0.9"/>
<text x="394.60" y="457.08" font-size="10.1" fill="#231f20" text-anchor="end" >40</text>
<line x1="397.6" y1="425.2" x2="400" y2="425.2" stroke="#231f20" stroke-width="0.9"/>
<text x="394.60" y="428.80" font-size="10.1" fill="#231f20" text-anchor="end" >50</text>
<line x1="397.6" y1="396.9" x2="400" y2="396.9" stroke="#231f20" stroke-width="0.9"/>
<text x="394.60" y="400.52" font-size="10.1" fill="#231f20" text-anchor="end" >60</text>
<text x="374.00" y="528.29" font-size="13.2" fill="#231f20" textLength="93.22" lengthAdjust="spacingAndGlyphs" transform="rotate(-90 374.00 528.29)" >Sural NCV [m/s]</text>
<text x="474.40" y="586.10" font-size="11.8" fill="#231f20" textLength="50.68" lengthAdjust="spacingAndGlyphs" >Subjects</text>
<text x="415.20" y="565.70" font-size="8.6" fill="#231f20" textLength="6.21" lengthAdjust="spacingAndGlyphs" >N</text>
<text x="420.59" y="569.70" font-size="5.8" fill="#231f20" textLength="6.91" lengthAdjust="spacingAndGlyphs" >PN</text>
<text x="426.67" y="565.70" font-size="8.6" fill="#231f20" textLength="10.08" lengthAdjust="spacingAndGlyphs" >=7</text>
<circle cx="415.5" cy="436" r="2.1" fill="none" stroke="#2d9a47" stroke-width="1.2"/>
<circle cx="437.3" cy="444" r="2.1" fill="none" stroke="#2d9a47" stroke-width="1.2"/>
<circle cx="459.2" cy="450.7" r="2.1" fill="none" stroke="#2d9a47" stroke-width="1.2"/>
<circle cx="481.2" cy="453.5" r="2.1" fill="none" stroke="#2d9a47" stroke-width="1.2"/>
<circle cx="503.1" cy="464" r="2.1" fill="none" stroke="#2d9a47" stroke-width="1.2"/>
<rect x="476.8" y="448.9" width="9.3" height="9.5" fill="none" stroke="#2d9a47" stroke-width="0.9" stroke-dasharray="1.6,1.2"/>
<path d="M522.3,460.4 L527.3,465.4 M522.3,465.4 L527.3,460.4" stroke="#e8333a" stroke-width="0.9"/>
<path d="M544.5,469.4 L549.5,474.4 M544.5,474.4 L549.5,469.4" stroke="#e8333a" stroke-width="0.9"/>
<rect x="542.3" y="467.2" width="9.5" height="9.6" fill="none" stroke="#e8333a" stroke-width="0.8" stroke-dasharray="1.6,1.2"/>
<line x1="534.5" y1="436.8" x2="541.6" y2="450" stroke="#231f20" stroke-width="1.25"/>
<polygon points="536.8,452.4 546.2,447.5 545.8,457.8" fill="#231f20"/>
<text x="547.83" y="442.40" font-size="10.2" fill="#231f20" textLength="63.89" lengthAdjust="spacingAndGlyphs" >0.55 m/s yearly</text>
<text x="547.81" y="450.80" font-size="10.2" fill="#231f20" textLength="38.00" lengthAdjust="spacingAndGlyphs" >decrease</text>
<path d="M611.7,419.3 L616.2,419.3 L616.2,461.2 L611.7,461.2" fill="none" stroke="#6d6e71" stroke-width="0.8"/>
<path d="M616.80,434.50 L622.80,434.50 M618.30,431.90 L621.30,437.10 M621.30,431.90 L618.30,437.10 M616.80,441.00 L622.80,441.00 M618.30,438.40 L621.30,443.60 M621.30,438.40 L618.30,443.60 M616.80,447.50 L622.80,447.50 M618.30,444.90 L621.30,450.10 M621.30,444.90 L618.30,450.10 " stroke="#414042" stroke-width="1.15" fill="none"/>
<text x="620.28" y="471.40" font-size="10.2" fill="#231f20" textLength="47.13" lengthAdjust="spacingAndGlyphs" >Sural nerve</text>
<text x="620.03" y="482.80" font-size="10.2" fill="#231f20" textLength="49.23" lengthAdjust="spacingAndGlyphs" >innervation</text>
<rect x="590.1" y="488.3" width="10.8" height="10.5" fill="#8e8f94"/>
<rect x="590.1" y="502.1" width="10.8" height="10.5" fill="#abd8e0"/>
<rect x="590.1" y="516.1" width="10.8" height="10.6" fill="#1b97a8"/>
<circle cx="595.5" cy="535.7" r="3.9" fill="none" stroke="#2d9a47" stroke-width="1.1"/>
<path d="M591.5,544.2 L599.5,552.2 M591.5,552.2 L599.5,544.2" stroke="#e8333a" stroke-width="0.9"/>
<rect x="590.1" y="556.4" width="10.8" height="10" fill="#fed58f"/>
<text x="605.82" y="497.90" font-size="8.8" fill="#231f20" textLength="54.92" lengthAdjust="spacingAndGlyphs" >Lost Sensation</text>
<text x="605.82" y="511.30" font-size="8.8" fill="#231f20" textLength="67.23" lengthAdjust="spacingAndGlyphs" >Evoked Sensation</text>
<text x="605.82" y="524.70" font-size="8.8" fill="#231f20" textLength="72.72" lengthAdjust="spacingAndGlyphs" >Restored Sensation</text>
<text x="606.11" y="537.60" font-size="8.8" fill="#231f20" textLength="67.45" lengthAdjust="spacingAndGlyphs" >Sensation elicited</text>
<text x="605.79" y="550.10" font-size="8.8" fill="#231f20" textLength="79.77" lengthAdjust="spacingAndGlyphs" >No sensation elicited</text>
<text x="605.78" y="563.50" font-size="8.8" fill="#231f20" textLength="77.79" lengthAdjust="spacingAndGlyphs" >Estimated elicitation</text>
<text x="605.83" y="575.00" font-size="8.8" fill="#231f20" textLength="17.75" lengthAdjust="spacingAndGlyphs" >limit</text>
<path d="M558.50,515.00 C556.30,520.00 556.30,526.00 557.10,530.40 C558.30,537.00 560.00,541.00 561.80,544.60 C564.00,550.00 565.50,556.00 569.50,557.30 C574.00,558.00 577.50,553.00 578.30,548.10 C579.00,543.00 578.50,540.00 578.90,536.30 C579.50,530.00 581.50,524.00 581.30,518.60 C581.20,514.00 580.80,511.00 580.10,509.50 Z" fill="#9d9fa2"/>
<path d="M558.50,515.00 C556.30,520.00 556.30,526.00 557.10,530.40 C558.30,537.00 560.00,541.00 561.80,544.60 C564.00,550.00 565.50,556.00 569.50,557.30 C574.00,558.00 577.50,553.00 578.30,548.10 C579.00,543.00 578.50,540.00 578.90,536.30 C579.50,530.00 581.50,524.00 581.30,518.60 C581.20,514.00 580.80,511.00 580.10,509.50" fill="none" stroke="#6d6e71" stroke-width="0.75"/>
<ellipse cx="576.50" cy="505.60" rx="4.15" ry="4.7" fill="#9d9fa2" stroke="#6d6e71" stroke-width="0.75"/>
<ellipse cx="569.70" cy="506.60" rx="2.05" ry="3.8" fill="#9d9fa2" stroke="#6d6e71" stroke-width="0.75"/>
<ellipse cx="565.90" cy="508.60" rx="1.8" ry="3.0" fill="#9d9fa2" stroke="#6d6e71" stroke-width="0.75"/>
<ellipse cx="562.90" cy="511.20" rx="1.75" ry="3.0" fill="#9d9fa2" stroke="#6d6e71" stroke-width="0.75"/>
<ellipse cx="560.10" cy="515.00" rx="1.7" ry="2.4" fill="#9d9fa2" stroke="#6d6e71" stroke-width="0.75"/>
<rect x="554.7" y="516.2" width="13.9" height="41.3" fill="none" stroke="#e8333a" stroke-width="0.9" stroke-dasharray="2.4,1.4"/>
<line x1="547" y1="476.8" x2="554.3" y2="516.5" stroke="#e8333a" stroke-width="0.8" stroke-dasharray="2,1.5"/>
<path d="M637.60,419.40 C635.40,424.40 635.40,430.40 636.20,434.80 C637.40,441.40 639.10,445.40 640.90,449.00 C643.10,454.40 644.60,460.40 648.60,461.70 C653.10,462.40 656.60,457.40 657.40,452.50 C658.10,447.40 657.60,444.40 658.00,440.70 C658.60,434.40 660.60,428.40 660.40,423.00 C660.30,418.40 659.90,415.40 659.20,413.90 Z" fill="#fff"/>
<path d="M637.60,419.40 C635.40,424.40 635.40,430.40 636.20,434.80 C637.40,441.40 639.10,445.40 640.90,449.00 C643.10,454.40 644.60,460.40 648.60,461.70 C653.10,462.40 656.60,457.40 657.40,452.50 C658.10,447.40 657.60,444.40 658.00,440.70 C658.60,434.40 660.60,428.40 660.40,423.00 C660.30,418.40 659.90,415.40 659.20,413.90" fill="none" stroke="#231f20" stroke-width="0.75"/>
<ellipse cx="655.60" cy="410.00" rx="4.15" ry="4.7" fill="#fff" stroke="#231f20" stroke-width="0.75"/>
<ellipse cx="648.80" cy="411.00" rx="2.05" ry="3.8" fill="#fff" stroke="#231f20" stroke-width="0.75"/>
<ellipse cx="645.00" cy="413.00" rx="1.8" ry="3.0" fill="#fff" stroke="#231f20" stroke-width="0.75"/>
<ellipse cx="642.00" cy="415.60" rx="1.75" ry="3.0" fill="#fff" stroke="#231f20" stroke-width="0.75"/>
<ellipse cx="639.20" cy="419.40" rx="1.7" ry="2.4" fill="#fff" stroke="#231f20" stroke-width="0.75"/>
<rect x="633.3" y="421.2" width="14.3" height="41" fill="none" stroke="#231f20" stroke-width="0.9" stroke-dasharray="2.6,1.4"/>
<clipPath id="f1"><path d="M458.60,484.50 C457.30,488.00 457.00,491.50 457.40,498.00 C457.80,503.00 458.80,508.90 459.60,514.00 C460.30,520.00 461.20,526.60 462.20,530.00 C464.00,531.60 466.50,531.90 469.00,532.00 C470.60,530.80 472.20,528.50 473.50,524.50 C474.80,519.60 476.00,515.00 477.20,512.00 C478.30,508.90 479.30,505.00 480.10,498.30 C480.30,495.00 480.00,493.50 479.30,492.20 L477.6,491 L474.6,487.7 L471.1,485.1 L467.3,483.3 L461.5,481.8 Z"/></clipPath>
<path d="M458.60,484.50 C457.30,488.00 457.00,491.50 457.40,498.00 C457.80,503.00 458.80,508.90 459.60,514.00 C460.30,520.00 461.20,526.60 462.20,530.00 C464.00,531.60 466.50,531.90 469.00,532.00 C470.60,530.80 472.20,528.50 473.50,524.50 C474.80,519.60 476.00,515.00 477.20,512.00 C478.30,508.90 479.30,505.00 480.10,498.30 C480.30,495.00 480.00,493.50 479.30,492.20 L477.6,491 L474.6,487.7 L471.1,485.1 L467.3,483.3 L461.5,481.8 Z" fill="#fff"/>
<g clip-path="url(#f1)"><path d="M455,476 L474,476 L474,494 C473.5,496.5 472,497.7 470,497.7 L455,497.7 Z" fill="#a7a9ac"/><path d="M455,520.5 C460,523.5 466,522 470,517.5 C473.5,513 475.5,506 476.6,499.5 L484,499.5 L484,540 L455,540 Z" fill="#b7dee7"/><path d="M477.6,494 L484,494 L484,511.8 L475.4,511.8 C476.6,506 477.3,500 477.6,494 Z" fill="#1794a8"/></g>
<path d="M458.60,484.50 C457.30,488.00 457.00,491.50 457.40,498.00 C457.80,503.00 458.80,508.90 459.60,514.00 C460.30,520.00 461.20,526.60 462.20,530.00 C464.00,531.60 466.50,531.90 469.00,532.00 C470.60,530.80 472.20,528.50 473.50,524.50 C474.80,519.60 476.00,515.00 477.20,512.00 C478.30,508.90 479.30,505.00 480.10,498.30 C480.30,495.00 480.00,493.50 479.30,492.20" fill="none" stroke="#231f20" stroke-width="0.75"/>
<ellipse cx="461.5" cy="481.8" rx="3.2" ry="4.1" fill="#a7a9ac" stroke="#414042" stroke-width="0.6"/>
<ellipse cx="467.3" cy="483.3" rx="2.1" ry="3.2" fill="#a7a9ac" stroke="#414042" stroke-width="0.6"/>
<ellipse cx="471.1" cy="485.1" rx="1.75" ry="2.6" fill="#a7a9ac" stroke="#414042" stroke-width="0.6"/>
<ellipse cx="474.6" cy="487.7" rx="1.7" ry="2.8" fill="#fff" stroke="#414042" stroke-width="0.6"/>
<ellipse cx="477.6" cy="491.1" rx="1.65" ry="2.3" fill="#fff" stroke="#414042" stroke-width="0.6"/>
<rect x="464.3" y="497.1" width="17" height="38.4" fill="none" stroke="#2d9a47" stroke-width="1.1" stroke-dasharray="2.2,1.5"/>
<line x1="481" y1="458.4" x2="481" y2="497" stroke="#2d9a47" stroke-width="1.1" stroke-dasharray="1.3,1.3"/>
</svg>
</body></html>
